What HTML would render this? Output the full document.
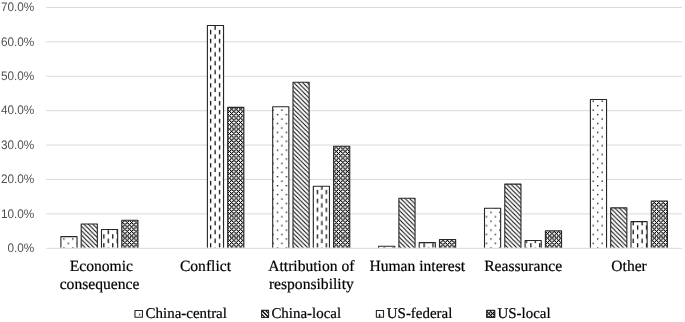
<!DOCTYPE html>
<html><head><meta charset="utf-8"><title>chart</title>
<style>
html,body{margin:0;padding:0;background:#fff;}
body{width:685px;height:322px;overflow:hidden;}
svg{display:block;will-change:transform;}
text{text-rendering:geometricPrecision;}
.ax{font-family:"Liberation Sans",sans-serif;font-size:12.4px;fill:#505050;}
.cat{font-family:"Liberation Serif",serif;font-size:15.6px;fill:#000;stroke:#000;stroke-width:0.2px;}
.leg{font-family:"Liberation Serif",serif;font-size:14.95px;fill:#000;stroke:#000;stroke-width:0.2px;}
</style></head><body>
<svg width="685" height="322" viewBox="0 0 685 322">
<defs>
<pattern id="pDot" patternUnits="userSpaceOnUse" width="8.8960" height="8.8850" patternTransform="translate(62.282 237.314)"><rect width="8.8960" height="8.8850" fill="#fff"/><rect x="1.0280" y="1.0259" width="1.2800" height="1.2800" fill="#000"/><rect x="5.4760" y="5.4684" width="1.2800" height="1.2800" fill="#000"/></pattern>
<pattern id="pDash" patternUnits="userSpaceOnUse" width="8.8960" height="8.8850" patternTransform="translate(208.982 29.899)"><rect width="8.8960" height="8.8850" fill="#fff"/><rect x="1.0680" y="0" width="1.2000" height="4.4425" fill="#000"/><rect x="5.5160" y="4.4425" width="1.2000" height="4.4425" fill="#000"/></pattern>
<pattern id="pDiag" patternUnits="userSpaceOnUse" width="4.4480" height="4.4480" patternTransform="translate(300.540 85.000)"><rect width="4.4480" height="4.4480" fill="#fff"/><path d="M-4.448 -4.448L8.896 8.896M-4.448 0L4.448 8.896M0 -4.448L8.896 4.448" stroke="#000" stroke-width="1.000" fill="none"/></pattern>
<pattern id="pChk" patternUnits="userSpaceOnUse" width="4.4480" height="4.4480" patternTransform="translate(291.755 129.130)"><rect width="4.4480" height="4.4480" fill="#fff"/><path d="M-4.448 -4.448L8.896 8.896M-4.448 0L4.448 8.896M0 -4.448L8.896 4.448M8.896 -4.448L-4.448 8.896M4.448 -4.448L-4.448 4.448M8.896 0L0 8.896" stroke="#000" stroke-width="0.900" fill="none"/></pattern>
<pattern id="lDot" patternUnits="userSpaceOnUse" width="8.8960" height="8.8850" patternTransform="translate(137.882 312.784)"><rect width="8.8960" height="8.8850" fill="#fff"/><rect x="1.0280" y="1.0259" width="1.2800" height="1.2800" fill="#000"/><rect x="5.4760" y="5.4684" width="1.2800" height="1.2800" fill="#000"/></pattern>
<pattern id="lDash" patternUnits="userSpaceOnUse" width="8.8960" height="8.8850" patternTransform="translate(377.892 313.959)"><rect width="8.8960" height="8.8850" fill="#fff"/><rect x="1.0680" y="0" width="1.2000" height="4.4425" fill="#000"/><rect x="5.5160" y="4.4425" width="1.2000" height="4.4425" fill="#000"/></pattern>
<pattern id="lDiag" patternUnits="userSpaceOnUse" width="4.4480" height="4.4480" patternTransform="translate(0.130 0.000)"><rect width="4.4480" height="4.4480" fill="#fff"/><path d="M-4.448 -4.448L8.896 8.896M-4.448 0L4.448 8.896M0 -4.448L8.896 4.448" stroke="#000" stroke-width="1.500" fill="none"/></pattern>
<pattern id="lChk" patternUnits="userSpaceOnUse" width="4.4480" height="4.4480" patternTransform="translate(486.250 311.970)"><rect width="4.4480" height="4.4480" fill="#fff"/><path d="M-4.448 -4.448L8.896 8.896M-4.448 0L4.448 8.896M0 -4.448L8.896 4.448M8.896 -4.448L-4.448 8.896M4.448 -4.448L-4.448 4.448M8.896 0L0 8.896" stroke="#000" stroke-width="0.900" fill="none"/></pattern>
</defs>
<rect width="685" height="322" fill="#fff"/>
<line x1="46.2" x2="682.05" y1="213.89" y2="213.89" stroke="#D9D9D9" stroke-width="1"/>
<line x1="46.2" x2="682.05" y1="179.48" y2="179.48" stroke="#D9D9D9" stroke-width="1"/>
<line x1="46.2" x2="682.05" y1="145.07" y2="145.07" stroke="#D9D9D9" stroke-width="1"/>
<line x1="46.2" x2="682.05" y1="110.66" y2="110.66" stroke="#D9D9D9" stroke-width="1"/>
<line x1="46.2" x2="682.05" y1="76.25" y2="76.25" stroke="#D9D9D9" stroke-width="1"/>
<line x1="46.2" x2="682.05" y1="41.84" y2="41.84" stroke="#D9D9D9" stroke-width="1"/>
<line x1="46.2" x2="682.05" y1="7.43" y2="7.43" stroke="#D9D9D9" stroke-width="1"/>
<text class="ax" x="34.25" y="252.00" text-anchor="end" textLength="26.75" lengthAdjust="spacingAndGlyphs">0.0%</text>
<text class="ax" x="34.25" y="217.59" text-anchor="end" textLength="33.35" lengthAdjust="spacingAndGlyphs">10.0%</text>
<text class="ax" x="34.25" y="183.18" text-anchor="end" textLength="33.35" lengthAdjust="spacingAndGlyphs">20.0%</text>
<text class="ax" x="34.25" y="148.77" text-anchor="end" textLength="33.35" lengthAdjust="spacingAndGlyphs">30.0%</text>
<text class="ax" x="34.25" y="114.36" text-anchor="end" textLength="33.35" lengthAdjust="spacingAndGlyphs">40.0%</text>
<text class="ax" x="34.25" y="79.95" text-anchor="end" textLength="33.35" lengthAdjust="spacingAndGlyphs">50.0%</text>
<text class="ax" x="34.25" y="45.54" text-anchor="end" textLength="33.35" lengthAdjust="spacingAndGlyphs">60.0%</text>
<text class="ax" x="34.25" y="11.13" text-anchor="end" textLength="33.35" lengthAdjust="spacingAndGlyphs">70.0%</text>
<path d="M60.90 247.80V236.64H77.05V247.80" fill="url(#pDot)" stroke="#262626" stroke-width="1.1" stroke-linejoin="round"/>
<path d="M81.20 247.80V224.02H97.35V247.80" fill="url(#pDiag)" stroke="#262626" stroke-width="1.1" stroke-linejoin="round"/>
<path d="M101.50 247.80V229.52H117.65V247.80" fill="url(#pDash)" stroke="#262626" stroke-width="1.1" stroke-linejoin="round"/>
<clipPath id="c0"><rect x="121.80" y="220.24" width="16.15" height="27.56"/></clipPath><path clip-path="url(#c0)" fill="#000" d="M120.99 218.57h1.26v1.26h-1.26zM123.21 218.57h1.26v1.26h-1.26zM125.44 218.57h1.26v1.26h-1.26zM127.66 218.57h1.26v1.26h-1.26zM129.89 218.57h1.26v1.26h-1.26zM132.11 218.57h1.26v1.26h-1.26zM134.33 218.57h1.26v1.26h-1.26zM136.56 218.57h1.26v1.26h-1.26zM138.78 218.57h1.26v1.26h-1.26zM119.88 219.69h1.26v1.26h-1.26zM124.33 219.69h1.26v1.26h-1.26zM128.77 219.69h1.26v1.26h-1.26zM133.22 219.69h1.26v1.26h-1.26zM137.67 219.69h1.26v1.26h-1.26zM120.99 220.80h1.26v1.26h-1.26zM123.21 220.80h1.26v1.26h-1.26zM125.44 220.80h1.26v1.26h-1.26zM127.66 220.80h1.26v1.26h-1.26zM129.89 220.80h1.26v1.26h-1.26zM132.11 220.80h1.26v1.26h-1.26zM134.33 220.80h1.26v1.26h-1.26zM136.56 220.80h1.26v1.26h-1.26zM138.78 220.80h1.26v1.26h-1.26zM122.10 221.91h1.26v1.26h-1.26zM126.55 221.91h1.26v1.26h-1.26zM131.00 221.91h1.26v1.26h-1.26zM135.45 221.91h1.26v1.26h-1.26zM120.99 223.02h1.26v1.26h-1.26zM123.21 223.02h1.26v1.26h-1.26zM125.44 223.02h1.26v1.26h-1.26zM127.66 223.02h1.26v1.26h-1.26zM129.89 223.02h1.26v1.26h-1.26zM132.11 223.02h1.26v1.26h-1.26zM134.33 223.02h1.26v1.26h-1.26zM136.56 223.02h1.26v1.26h-1.26zM138.78 223.02h1.26v1.26h-1.26zM119.88 224.13h1.26v1.26h-1.26zM124.33 224.13h1.26v1.26h-1.26zM128.77 224.13h1.26v1.26h-1.26zM133.22 224.13h1.26v1.26h-1.26zM137.67 224.13h1.26v1.26h-1.26zM120.99 225.25h1.26v1.26h-1.26zM123.21 225.25h1.26v1.26h-1.26zM125.44 225.25h1.26v1.26h-1.26zM127.66 225.25h1.26v1.26h-1.26zM129.89 225.25h1.26v1.26h-1.26zM132.11 225.25h1.26v1.26h-1.26zM134.33 225.25h1.26v1.26h-1.26zM136.56 225.25h1.26v1.26h-1.26zM138.78 225.25h1.26v1.26h-1.26zM122.10 226.36h1.26v1.26h-1.26zM126.55 226.36h1.26v1.26h-1.26zM131.00 226.36h1.26v1.26h-1.26zM135.45 226.36h1.26v1.26h-1.26zM120.99 227.47h1.26v1.26h-1.26zM123.21 227.47h1.26v1.26h-1.26zM125.44 227.47h1.26v1.26h-1.26zM127.66 227.47h1.26v1.26h-1.26zM129.89 227.47h1.26v1.26h-1.26zM132.11 227.47h1.26v1.26h-1.26zM134.33 227.47h1.26v1.26h-1.26zM136.56 227.47h1.26v1.26h-1.26zM138.78 227.47h1.26v1.26h-1.26zM119.88 228.58h1.26v1.26h-1.26zM124.33 228.58h1.26v1.26h-1.26zM128.77 228.58h1.26v1.26h-1.26zM133.22 228.58h1.26v1.26h-1.26zM137.67 228.58h1.26v1.26h-1.26zM120.99 229.69h1.26v1.26h-1.26zM123.21 229.69h1.26v1.26h-1.26zM125.44 229.69h1.26v1.26h-1.26zM127.66 229.69h1.26v1.26h-1.26zM129.89 229.69h1.26v1.26h-1.26zM132.11 229.69h1.26v1.26h-1.26zM134.33 229.69h1.26v1.26h-1.26zM136.56 229.69h1.26v1.26h-1.26zM138.78 229.69h1.26v1.26h-1.26zM122.10 230.81h1.26v1.26h-1.26zM126.55 230.81h1.26v1.26h-1.26zM131.00 230.81h1.26v1.26h-1.26zM135.45 230.81h1.26v1.26h-1.26zM120.99 231.92h1.26v1.26h-1.26zM123.21 231.92h1.26v1.26h-1.26zM125.44 231.92h1.26v1.26h-1.26zM127.66 231.92h1.26v1.26h-1.26zM129.89 231.92h1.26v1.26h-1.26zM132.11 231.92h1.26v1.26h-1.26zM134.33 231.92h1.26v1.26h-1.26zM136.56 231.92h1.26v1.26h-1.26zM138.78 231.92h1.26v1.26h-1.26zM119.88 233.03h1.26v1.26h-1.26zM124.33 233.03h1.26v1.26h-1.26zM128.77 233.03h1.26v1.26h-1.26zM133.22 233.03h1.26v1.26h-1.26zM137.67 233.03h1.26v1.26h-1.26zM120.99 234.14h1.26v1.26h-1.26zM123.21 234.14h1.26v1.26h-1.26zM125.44 234.14h1.26v1.26h-1.26zM127.66 234.14h1.26v1.26h-1.26zM129.89 234.14h1.26v1.26h-1.26zM132.11 234.14h1.26v1.26h-1.26zM134.33 234.14h1.26v1.26h-1.26zM136.56 234.14h1.26v1.26h-1.26zM138.78 234.14h1.26v1.26h-1.26zM122.10 235.25h1.26v1.26h-1.26zM126.55 235.25h1.26v1.26h-1.26zM131.00 235.25h1.26v1.26h-1.26zM135.45 235.25h1.26v1.26h-1.26zM120.99 236.37h1.26v1.26h-1.26zM123.21 236.37h1.26v1.26h-1.26zM125.44 236.37h1.26v1.26h-1.26zM127.66 236.37h1.26v1.26h-1.26zM129.89 236.37h1.26v1.26h-1.26zM132.11 236.37h1.26v1.26h-1.26zM134.33 236.37h1.26v1.26h-1.26zM136.56 236.37h1.26v1.26h-1.26zM138.78 236.37h1.26v1.26h-1.26zM119.88 237.48h1.26v1.26h-1.26zM124.33 237.48h1.26v1.26h-1.26zM128.77 237.48h1.26v1.26h-1.26zM133.22 237.48h1.26v1.26h-1.26zM137.67 237.48h1.26v1.26h-1.26zM120.99 238.59h1.26v1.26h-1.26zM123.21 238.59h1.26v1.26h-1.26zM125.44 238.59h1.26v1.26h-1.26zM127.66 238.59h1.26v1.26h-1.26zM129.89 238.59h1.26v1.26h-1.26zM132.11 238.59h1.26v1.26h-1.26zM134.33 238.59h1.26v1.26h-1.26zM136.56 238.59h1.26v1.26h-1.26zM138.78 238.59h1.26v1.26h-1.26zM122.10 239.70h1.26v1.26h-1.26zM126.55 239.70h1.26v1.26h-1.26zM131.00 239.70h1.26v1.26h-1.26zM135.45 239.70h1.26v1.26h-1.26zM120.99 240.81h1.26v1.26h-1.26zM123.21 240.81h1.26v1.26h-1.26zM125.44 240.81h1.26v1.26h-1.26zM127.66 240.81h1.26v1.26h-1.26zM129.89 240.81h1.26v1.26h-1.26zM132.11 240.81h1.26v1.26h-1.26zM134.33 240.81h1.26v1.26h-1.26zM136.56 240.81h1.26v1.26h-1.26zM138.78 240.81h1.26v1.26h-1.26zM119.88 241.93h1.26v1.26h-1.26zM124.33 241.93h1.26v1.26h-1.26zM128.77 241.93h1.26v1.26h-1.26zM133.22 241.93h1.26v1.26h-1.26zM137.67 241.93h1.26v1.26h-1.26zM120.99 243.04h1.26v1.26h-1.26zM123.21 243.04h1.26v1.26h-1.26zM125.44 243.04h1.26v1.26h-1.26zM127.66 243.04h1.26v1.26h-1.26zM129.89 243.04h1.26v1.26h-1.26zM132.11 243.04h1.26v1.26h-1.26zM134.33 243.04h1.26v1.26h-1.26zM136.56 243.04h1.26v1.26h-1.26zM138.78 243.04h1.26v1.26h-1.26zM122.10 244.15h1.26v1.26h-1.26zM126.55 244.15h1.26v1.26h-1.26zM131.00 244.15h1.26v1.26h-1.26zM135.45 244.15h1.26v1.26h-1.26zM120.99 245.26h1.26v1.26h-1.26zM123.21 245.26h1.26v1.26h-1.26zM125.44 245.26h1.26v1.26h-1.26zM127.66 245.26h1.26v1.26h-1.26zM129.89 245.26h1.26v1.26h-1.26zM132.11 245.26h1.26v1.26h-1.26zM134.33 245.26h1.26v1.26h-1.26zM136.56 245.26h1.26v1.26h-1.26zM138.78 245.26h1.26v1.26h-1.26zM119.88 246.37h1.26v1.26h-1.26zM124.33 246.37h1.26v1.26h-1.26zM128.77 246.37h1.26v1.26h-1.26zM133.22 246.37h1.26v1.26h-1.26zM137.67 246.37h1.26v1.26h-1.26zM120.99 247.49h1.26v1.26h-1.26zM123.21 247.49h1.26v1.26h-1.26zM125.44 247.49h1.26v1.26h-1.26zM127.66 247.49h1.26v1.26h-1.26zM129.89 247.49h1.26v1.26h-1.26zM132.11 247.49h1.26v1.26h-1.26zM134.33 247.49h1.26v1.26h-1.26zM136.56 247.49h1.26v1.26h-1.26zM138.78 247.49h1.26v1.26h-1.26zM122.10 248.60h1.26v1.26h-1.26zM126.55 248.60h1.26v1.26h-1.26zM131.00 248.60h1.26v1.26h-1.26zM135.45 248.60h1.26v1.26h-1.26z"/>
<path d="M121.80 247.80V220.24H137.95V247.80" fill="none" stroke="#262626" stroke-width="1.1" stroke-linejoin="round"/>
<path d="M207.40 247.80V25.53H223.55V247.80" fill="url(#pDash)" stroke="#262626" stroke-width="1.1" stroke-linejoin="round"/>
<clipPath id="c1"><rect x="227.70" y="107.40" width="16.15" height="140.40"/></clipPath><path clip-path="url(#c1)" fill="#000" d="M225.52 105.15h1.26v1.26h-1.26zM227.74 105.15h1.26v1.26h-1.26zM229.97 105.15h1.26v1.26h-1.26zM232.19 105.15h1.26v1.26h-1.26zM234.41 105.15h1.26v1.26h-1.26zM236.64 105.15h1.26v1.26h-1.26zM238.86 105.15h1.26v1.26h-1.26zM241.09 105.15h1.26v1.26h-1.26zM243.31 105.15h1.26v1.26h-1.26zM228.85 106.26h1.26v1.26h-1.26zM233.30 106.26h1.26v1.26h-1.26zM237.75 106.26h1.26v1.26h-1.26zM242.20 106.26h1.26v1.26h-1.26zM225.52 107.37h1.26v1.26h-1.26zM227.74 107.37h1.26v1.26h-1.26zM229.97 107.37h1.26v1.26h-1.26zM232.19 107.37h1.26v1.26h-1.26zM234.41 107.37h1.26v1.26h-1.26zM236.64 107.37h1.26v1.26h-1.26zM238.86 107.37h1.26v1.26h-1.26zM241.09 107.37h1.26v1.26h-1.26zM243.31 107.37h1.26v1.26h-1.26zM226.63 108.49h1.26v1.26h-1.26zM231.08 108.49h1.26v1.26h-1.26zM235.53 108.49h1.26v1.26h-1.26zM239.97 108.49h1.26v1.26h-1.26zM244.42 108.49h1.26v1.26h-1.26zM225.52 109.60h1.26v1.26h-1.26zM227.74 109.60h1.26v1.26h-1.26zM229.97 109.60h1.26v1.26h-1.26zM232.19 109.60h1.26v1.26h-1.26zM234.41 109.60h1.26v1.26h-1.26zM236.64 109.60h1.26v1.26h-1.26zM238.86 109.60h1.26v1.26h-1.26zM241.09 109.60h1.26v1.26h-1.26zM243.31 109.60h1.26v1.26h-1.26zM228.85 110.71h1.26v1.26h-1.26zM233.30 110.71h1.26v1.26h-1.26zM237.75 110.71h1.26v1.26h-1.26zM242.20 110.71h1.26v1.26h-1.26zM225.52 111.82h1.26v1.26h-1.26zM227.74 111.82h1.26v1.26h-1.26zM229.97 111.82h1.26v1.26h-1.26zM232.19 111.82h1.26v1.26h-1.26zM234.41 111.82h1.26v1.26h-1.26zM236.64 111.82h1.26v1.26h-1.26zM238.86 111.82h1.26v1.26h-1.26zM241.09 111.82h1.26v1.26h-1.26zM243.31 111.82h1.26v1.26h-1.26zM226.63 112.93h1.26v1.26h-1.26zM231.08 112.93h1.26v1.26h-1.26zM235.53 112.93h1.26v1.26h-1.26zM239.97 112.93h1.26v1.26h-1.26zM244.42 112.93h1.26v1.26h-1.26zM225.52 114.05h1.26v1.26h-1.26zM227.74 114.05h1.26v1.26h-1.26zM229.97 114.05h1.26v1.26h-1.26zM232.19 114.05h1.26v1.26h-1.26zM234.41 114.05h1.26v1.26h-1.26zM236.64 114.05h1.26v1.26h-1.26zM238.86 114.05h1.26v1.26h-1.26zM241.09 114.05h1.26v1.26h-1.26zM243.31 114.05h1.26v1.26h-1.26zM228.85 115.16h1.26v1.26h-1.26zM233.30 115.16h1.26v1.26h-1.26zM237.75 115.16h1.26v1.26h-1.26zM242.20 115.16h1.26v1.26h-1.26zM225.52 116.27h1.26v1.26h-1.26zM227.74 116.27h1.26v1.26h-1.26zM229.97 116.27h1.26v1.26h-1.26zM232.19 116.27h1.26v1.26h-1.26zM234.41 116.27h1.26v1.26h-1.26zM236.64 116.27h1.26v1.26h-1.26zM238.86 116.27h1.26v1.26h-1.26zM241.09 116.27h1.26v1.26h-1.26zM243.31 116.27h1.26v1.26h-1.26zM226.63 117.38h1.26v1.26h-1.26zM231.08 117.38h1.26v1.26h-1.26zM235.53 117.38h1.26v1.26h-1.26zM239.97 117.38h1.26v1.26h-1.26zM244.42 117.38h1.26v1.26h-1.26zM225.52 118.49h1.26v1.26h-1.26zM227.74 118.49h1.26v1.26h-1.26zM229.97 118.49h1.26v1.26h-1.26zM232.19 118.49h1.26v1.26h-1.26zM234.41 118.49h1.26v1.26h-1.26zM236.64 118.49h1.26v1.26h-1.26zM238.86 118.49h1.26v1.26h-1.26zM241.09 118.49h1.26v1.26h-1.26zM243.31 118.49h1.26v1.26h-1.26zM228.85 119.61h1.26v1.26h-1.26zM233.30 119.61h1.26v1.26h-1.26zM237.75 119.61h1.26v1.26h-1.26zM242.20 119.61h1.26v1.26h-1.26zM225.52 120.72h1.26v1.26h-1.26zM227.74 120.72h1.26v1.26h-1.26zM229.97 120.72h1.26v1.26h-1.26zM232.19 120.72h1.26v1.26h-1.26zM234.41 120.72h1.26v1.26h-1.26zM236.64 120.72h1.26v1.26h-1.26zM238.86 120.72h1.26v1.26h-1.26zM241.09 120.72h1.26v1.26h-1.26zM243.31 120.72h1.26v1.26h-1.26zM226.63 121.83h1.26v1.26h-1.26zM231.08 121.83h1.26v1.26h-1.26zM235.53 121.83h1.26v1.26h-1.26zM239.97 121.83h1.26v1.26h-1.26zM244.42 121.83h1.26v1.26h-1.26zM225.52 122.94h1.26v1.26h-1.26zM227.74 122.94h1.26v1.26h-1.26zM229.97 122.94h1.26v1.26h-1.26zM232.19 122.94h1.26v1.26h-1.26zM234.41 122.94h1.26v1.26h-1.26zM236.64 122.94h1.26v1.26h-1.26zM238.86 122.94h1.26v1.26h-1.26zM241.09 122.94h1.26v1.26h-1.26zM243.31 122.94h1.26v1.26h-1.26zM228.85 124.05h1.26v1.26h-1.26zM233.30 124.05h1.26v1.26h-1.26zM237.75 124.05h1.26v1.26h-1.26zM242.20 124.05h1.26v1.26h-1.26zM225.52 125.17h1.26v1.26h-1.26zM227.74 125.17h1.26v1.26h-1.26zM229.97 125.17h1.26v1.26h-1.26zM232.19 125.17h1.26v1.26h-1.26zM234.41 125.17h1.26v1.26h-1.26zM236.64 125.17h1.26v1.26h-1.26zM238.86 125.17h1.26v1.26h-1.26zM241.09 125.17h1.26v1.26h-1.26zM243.31 125.17h1.26v1.26h-1.26zM226.63 126.28h1.26v1.26h-1.26zM231.08 126.28h1.26v1.26h-1.26zM235.53 126.28h1.26v1.26h-1.26zM239.97 126.28h1.26v1.26h-1.26zM244.42 126.28h1.26v1.26h-1.26zM225.52 127.39h1.26v1.26h-1.26zM227.74 127.39h1.26v1.26h-1.26zM229.97 127.39h1.26v1.26h-1.26zM232.19 127.39h1.26v1.26h-1.26zM234.41 127.39h1.26v1.26h-1.26zM236.64 127.39h1.26v1.26h-1.26zM238.86 127.39h1.26v1.26h-1.26zM241.09 127.39h1.26v1.26h-1.26zM243.31 127.39h1.26v1.26h-1.26zM228.85 128.50h1.26v1.26h-1.26zM233.30 128.50h1.26v1.26h-1.26zM237.75 128.50h1.26v1.26h-1.26zM242.20 128.50h1.26v1.26h-1.26zM225.52 129.61h1.26v1.26h-1.26zM227.74 129.61h1.26v1.26h-1.26zM229.97 129.61h1.26v1.26h-1.26zM232.19 129.61h1.26v1.26h-1.26zM234.41 129.61h1.26v1.26h-1.26zM236.64 129.61h1.26v1.26h-1.26zM238.86 129.61h1.26v1.26h-1.26zM241.09 129.61h1.26v1.26h-1.26zM243.31 129.61h1.26v1.26h-1.26zM226.63 130.73h1.26v1.26h-1.26zM231.08 130.73h1.26v1.26h-1.26zM235.53 130.73h1.26v1.26h-1.26zM239.97 130.73h1.26v1.26h-1.26zM244.42 130.73h1.26v1.26h-1.26zM225.52 131.84h1.26v1.26h-1.26zM227.74 131.84h1.26v1.26h-1.26zM229.97 131.84h1.26v1.26h-1.26zM232.19 131.84h1.26v1.26h-1.26zM234.41 131.84h1.26v1.26h-1.26zM236.64 131.84h1.26v1.26h-1.26zM238.86 131.84h1.26v1.26h-1.26zM241.09 131.84h1.26v1.26h-1.26zM243.31 131.84h1.26v1.26h-1.26zM228.85 132.95h1.26v1.26h-1.26zM233.30 132.95h1.26v1.26h-1.26zM237.75 132.95h1.26v1.26h-1.26zM242.20 132.95h1.26v1.26h-1.26zM225.52 134.06h1.26v1.26h-1.26zM227.74 134.06h1.26v1.26h-1.26zM229.97 134.06h1.26v1.26h-1.26zM232.19 134.06h1.26v1.26h-1.26zM234.41 134.06h1.26v1.26h-1.26zM236.64 134.06h1.26v1.26h-1.26zM238.86 134.06h1.26v1.26h-1.26zM241.09 134.06h1.26v1.26h-1.26zM243.31 134.06h1.26v1.26h-1.26zM226.63 135.17h1.26v1.26h-1.26zM231.08 135.17h1.26v1.26h-1.26zM235.53 135.17h1.26v1.26h-1.26zM239.97 135.17h1.26v1.26h-1.26zM244.42 135.17h1.26v1.26h-1.26zM225.52 136.29h1.26v1.26h-1.26zM227.74 136.29h1.26v1.26h-1.26zM229.97 136.29h1.26v1.26h-1.26zM232.19 136.29h1.26v1.26h-1.26zM234.41 136.29h1.26v1.26h-1.26zM236.64 136.29h1.26v1.26h-1.26zM238.86 136.29h1.26v1.26h-1.26zM241.09 136.29h1.26v1.26h-1.26zM243.31 136.29h1.26v1.26h-1.26zM228.85 137.40h1.26v1.26h-1.26zM233.30 137.40h1.26v1.26h-1.26zM237.75 137.40h1.26v1.26h-1.26zM242.20 137.40h1.26v1.26h-1.26zM225.52 138.51h1.26v1.26h-1.26zM227.74 138.51h1.26v1.26h-1.26zM229.97 138.51h1.26v1.26h-1.26zM232.19 138.51h1.26v1.26h-1.26zM234.41 138.51h1.26v1.26h-1.26zM236.64 138.51h1.26v1.26h-1.26zM238.86 138.51h1.26v1.26h-1.26zM241.09 138.51h1.26v1.26h-1.26zM243.31 138.51h1.26v1.26h-1.26zM226.63 139.62h1.26v1.26h-1.26zM231.08 139.62h1.26v1.26h-1.26zM235.53 139.62h1.26v1.26h-1.26zM239.97 139.62h1.26v1.26h-1.26zM244.42 139.62h1.26v1.26h-1.26zM225.52 140.73h1.26v1.26h-1.26zM227.74 140.73h1.26v1.26h-1.26zM229.97 140.73h1.26v1.26h-1.26zM232.19 140.73h1.26v1.26h-1.26zM234.41 140.73h1.26v1.26h-1.26zM236.64 140.73h1.26v1.26h-1.26zM238.86 140.73h1.26v1.26h-1.26zM241.09 140.73h1.26v1.26h-1.26zM243.31 140.73h1.26v1.26h-1.26zM228.85 141.85h1.26v1.26h-1.26zM233.30 141.85h1.26v1.26h-1.26zM237.75 141.85h1.26v1.26h-1.26zM242.20 141.85h1.26v1.26h-1.26zM225.52 142.96h1.26v1.26h-1.26zM227.74 142.96h1.26v1.26h-1.26zM229.97 142.96h1.26v1.26h-1.26zM232.19 142.96h1.26v1.26h-1.26zM234.41 142.96h1.26v1.26h-1.26zM236.64 142.96h1.26v1.26h-1.26zM238.86 142.96h1.26v1.26h-1.26zM241.09 142.96h1.26v1.26h-1.26zM243.31 142.96h1.26v1.26h-1.26zM226.63 144.07h1.26v1.26h-1.26zM231.08 144.07h1.26v1.26h-1.26zM235.53 144.07h1.26v1.26h-1.26zM239.97 144.07h1.26v1.26h-1.26zM244.42 144.07h1.26v1.26h-1.26zM225.52 145.18h1.26v1.26h-1.26zM227.74 145.18h1.26v1.26h-1.26zM229.97 145.18h1.26v1.26h-1.26zM232.19 145.18h1.26v1.26h-1.26zM234.41 145.18h1.26v1.26h-1.26zM236.64 145.18h1.26v1.26h-1.26zM238.86 145.18h1.26v1.26h-1.26zM241.09 145.18h1.26v1.26h-1.26zM243.31 145.18h1.26v1.26h-1.26zM228.85 146.29h1.26v1.26h-1.26zM233.30 146.29h1.26v1.26h-1.26zM237.75 146.29h1.26v1.26h-1.26zM242.20 146.29h1.26v1.26h-1.26zM225.52 147.41h1.26v1.26h-1.26zM227.74 147.41h1.26v1.26h-1.26zM229.97 147.41h1.26v1.26h-1.26zM232.19 147.41h1.26v1.26h-1.26zM234.41 147.41h1.26v1.26h-1.26zM236.64 147.41h1.26v1.26h-1.26zM238.86 147.41h1.26v1.26h-1.26zM241.09 147.41h1.26v1.26h-1.26zM243.31 147.41h1.26v1.26h-1.26zM226.63 148.52h1.26v1.26h-1.26zM231.08 148.52h1.26v1.26h-1.26zM235.53 148.52h1.26v1.26h-1.26zM239.97 148.52h1.26v1.26h-1.26zM244.42 148.52h1.26v1.26h-1.26zM225.52 149.63h1.26v1.26h-1.26zM227.74 149.63h1.26v1.26h-1.26zM229.97 149.63h1.26v1.26h-1.26zM232.19 149.63h1.26v1.26h-1.26zM234.41 149.63h1.26v1.26h-1.26zM236.64 149.63h1.26v1.26h-1.26zM238.86 149.63h1.26v1.26h-1.26zM241.09 149.63h1.26v1.26h-1.26zM243.31 149.63h1.26v1.26h-1.26zM228.85 150.74h1.26v1.26h-1.26zM233.30 150.74h1.26v1.26h-1.26zM237.75 150.74h1.26v1.26h-1.26zM242.20 150.74h1.26v1.26h-1.26zM225.52 151.85h1.26v1.26h-1.26zM227.74 151.85h1.26v1.26h-1.26zM229.97 151.85h1.26v1.26h-1.26zM232.19 151.85h1.26v1.26h-1.26zM234.41 151.85h1.26v1.26h-1.26zM236.64 151.85h1.26v1.26h-1.26zM238.86 151.85h1.26v1.26h-1.26zM241.09 151.85h1.26v1.26h-1.26zM243.31 151.85h1.26v1.26h-1.26zM226.63 152.97h1.26v1.26h-1.26zM231.08 152.97h1.26v1.26h-1.26zM235.53 152.97h1.26v1.26h-1.26zM239.97 152.97h1.26v1.26h-1.26zM244.42 152.97h1.26v1.26h-1.26zM225.52 154.08h1.26v1.26h-1.26zM227.74 154.08h1.26v1.26h-1.26zM229.97 154.08h1.26v1.26h-1.26zM232.19 154.08h1.26v1.26h-1.26zM234.41 154.08h1.26v1.26h-1.26zM236.64 154.08h1.26v1.26h-1.26zM238.86 154.08h1.26v1.26h-1.26zM241.09 154.08h1.26v1.26h-1.26zM243.31 154.08h1.26v1.26h-1.26zM228.85 155.19h1.26v1.26h-1.26zM233.30 155.19h1.26v1.26h-1.26zM237.75 155.19h1.26v1.26h-1.26zM242.20 155.19h1.26v1.26h-1.26zM225.52 156.30h1.26v1.26h-1.26zM227.74 156.30h1.26v1.26h-1.26zM229.97 156.30h1.26v1.26h-1.26zM232.19 156.30h1.26v1.26h-1.26zM234.41 156.30h1.26v1.26h-1.26zM236.64 156.30h1.26v1.26h-1.26zM238.86 156.30h1.26v1.26h-1.26zM241.09 156.30h1.26v1.26h-1.26zM243.31 156.30h1.26v1.26h-1.26zM226.63 157.41h1.26v1.26h-1.26zM231.08 157.41h1.26v1.26h-1.26zM235.53 157.41h1.26v1.26h-1.26zM239.97 157.41h1.26v1.26h-1.26zM244.42 157.41h1.26v1.26h-1.26zM225.52 158.53h1.26v1.26h-1.26zM227.74 158.53h1.26v1.26h-1.26zM229.97 158.53h1.26v1.26h-1.26zM232.19 158.53h1.26v1.26h-1.26zM234.41 158.53h1.26v1.26h-1.26zM236.64 158.53h1.26v1.26h-1.26zM238.86 158.53h1.26v1.26h-1.26zM241.09 158.53h1.26v1.26h-1.26zM243.31 158.53h1.26v1.26h-1.26zM228.85 159.64h1.26v1.26h-1.26zM233.30 159.64h1.26v1.26h-1.26zM237.75 159.64h1.26v1.26h-1.26zM242.20 159.64h1.26v1.26h-1.26zM225.52 160.75h1.26v1.26h-1.26zM227.74 160.75h1.26v1.26h-1.26zM229.97 160.75h1.26v1.26h-1.26zM232.19 160.75h1.26v1.26h-1.26zM234.41 160.75h1.26v1.26h-1.26zM236.64 160.75h1.26v1.26h-1.26zM238.86 160.75h1.26v1.26h-1.26zM241.09 160.75h1.26v1.26h-1.26zM243.31 160.75h1.26v1.26h-1.26zM226.63 161.86h1.26v1.26h-1.26zM231.08 161.86h1.26v1.26h-1.26zM235.53 161.86h1.26v1.26h-1.26zM239.97 161.86h1.26v1.26h-1.26zM244.42 161.86h1.26v1.26h-1.26zM225.52 162.97h1.26v1.26h-1.26zM227.74 162.97h1.26v1.26h-1.26zM229.97 162.97h1.26v1.26h-1.26zM232.19 162.97h1.26v1.26h-1.26zM234.41 162.97h1.26v1.26h-1.26zM236.64 162.97h1.26v1.26h-1.26zM238.86 162.97h1.26v1.26h-1.26zM241.09 162.97h1.26v1.26h-1.26zM243.31 162.97h1.26v1.26h-1.26zM228.85 164.09h1.26v1.26h-1.26zM233.30 164.09h1.26v1.26h-1.26zM237.75 164.09h1.26v1.26h-1.26zM242.20 164.09h1.26v1.26h-1.26zM225.52 165.20h1.26v1.26h-1.26zM227.74 165.20h1.26v1.26h-1.26zM229.97 165.20h1.26v1.26h-1.26zM232.19 165.20h1.26v1.26h-1.26zM234.41 165.20h1.26v1.26h-1.26zM236.64 165.20h1.26v1.26h-1.26zM238.86 165.20h1.26v1.26h-1.26zM241.09 165.20h1.26v1.26h-1.26zM243.31 165.20h1.26v1.26h-1.26zM226.63 166.31h1.26v1.26h-1.26zM231.08 166.31h1.26v1.26h-1.26zM235.53 166.31h1.26v1.26h-1.26zM239.97 166.31h1.26v1.26h-1.26zM244.42 166.31h1.26v1.26h-1.26zM225.52 167.42h1.26v1.26h-1.26zM227.74 167.42h1.26v1.26h-1.26zM229.97 167.42h1.26v1.26h-1.26zM232.19 167.42h1.26v1.26h-1.26zM234.41 167.42h1.26v1.26h-1.26zM236.64 167.42h1.26v1.26h-1.26zM238.86 167.42h1.26v1.26h-1.26zM241.09 167.42h1.26v1.26h-1.26zM243.31 167.42h1.26v1.26h-1.26zM228.85 168.53h1.26v1.26h-1.26zM233.30 168.53h1.26v1.26h-1.26zM237.75 168.53h1.26v1.26h-1.26zM242.20 168.53h1.26v1.26h-1.26zM225.52 169.65h1.26v1.26h-1.26zM227.74 169.65h1.26v1.26h-1.26zM229.97 169.65h1.26v1.26h-1.26zM232.19 169.65h1.26v1.26h-1.26zM234.41 169.65h1.26v1.26h-1.26zM236.64 169.65h1.26v1.26h-1.26zM238.86 169.65h1.26v1.26h-1.26zM241.09 169.65h1.26v1.26h-1.26zM243.31 169.65h1.26v1.26h-1.26zM226.63 170.76h1.26v1.26h-1.26zM231.08 170.76h1.26v1.26h-1.26zM235.53 170.76h1.26v1.26h-1.26zM239.97 170.76h1.26v1.26h-1.26zM244.42 170.76h1.26v1.26h-1.26zM225.52 171.87h1.26v1.26h-1.26zM227.74 171.87h1.26v1.26h-1.26zM229.97 171.87h1.26v1.26h-1.26zM232.19 171.87h1.26v1.26h-1.26zM234.41 171.87h1.26v1.26h-1.26zM236.64 171.87h1.26v1.26h-1.26zM238.86 171.87h1.26v1.26h-1.26zM241.09 171.87h1.26v1.26h-1.26zM243.31 171.87h1.26v1.26h-1.26zM228.85 172.98h1.26v1.26h-1.26zM233.30 172.98h1.26v1.26h-1.26zM237.75 172.98h1.26v1.26h-1.26zM242.20 172.98h1.26v1.26h-1.26zM225.52 174.09h1.26v1.26h-1.26zM227.74 174.09h1.26v1.26h-1.26zM229.97 174.09h1.26v1.26h-1.26zM232.19 174.09h1.26v1.26h-1.26zM234.41 174.09h1.26v1.26h-1.26zM236.64 174.09h1.26v1.26h-1.26zM238.86 174.09h1.26v1.26h-1.26zM241.09 174.09h1.26v1.26h-1.26zM243.31 174.09h1.26v1.26h-1.26zM226.63 175.21h1.26v1.26h-1.26zM231.08 175.21h1.26v1.26h-1.26zM235.53 175.21h1.26v1.26h-1.26zM239.97 175.21h1.26v1.26h-1.26zM244.42 175.21h1.26v1.26h-1.26zM225.52 176.32h1.26v1.26h-1.26zM227.74 176.32h1.26v1.26h-1.26zM229.97 176.32h1.26v1.26h-1.26zM232.19 176.32h1.26v1.26h-1.26zM234.41 176.32h1.26v1.26h-1.26zM236.64 176.32h1.26v1.26h-1.26zM238.86 176.32h1.26v1.26h-1.26zM241.09 176.32h1.26v1.26h-1.26zM243.31 176.32h1.26v1.26h-1.26zM228.85 177.43h1.26v1.26h-1.26zM233.30 177.43h1.26v1.26h-1.26zM237.75 177.43h1.26v1.26h-1.26zM242.20 177.43h1.26v1.26h-1.26zM225.52 178.54h1.26v1.26h-1.26zM227.74 178.54h1.26v1.26h-1.26zM229.97 178.54h1.26v1.26h-1.26zM232.19 178.54h1.26v1.26h-1.26zM234.41 178.54h1.26v1.26h-1.26zM236.64 178.54h1.26v1.26h-1.26zM238.86 178.54h1.26v1.26h-1.26zM241.09 178.54h1.26v1.26h-1.26zM243.31 178.54h1.26v1.26h-1.26zM226.63 179.65h1.26v1.26h-1.26zM231.08 179.65h1.26v1.26h-1.26zM235.53 179.65h1.26v1.26h-1.26zM239.97 179.65h1.26v1.26h-1.26zM244.42 179.65h1.26v1.26h-1.26zM225.52 180.77h1.26v1.26h-1.26zM227.74 180.77h1.26v1.26h-1.26zM229.97 180.77h1.26v1.26h-1.26zM232.19 180.77h1.26v1.26h-1.26zM234.41 180.77h1.26v1.26h-1.26zM236.64 180.77h1.26v1.26h-1.26zM238.86 180.77h1.26v1.26h-1.26zM241.09 180.77h1.26v1.26h-1.26zM243.31 180.77h1.26v1.26h-1.26zM228.85 181.88h1.26v1.26h-1.26zM233.30 181.88h1.26v1.26h-1.26zM237.75 181.88h1.26v1.26h-1.26zM242.20 181.88h1.26v1.26h-1.26zM225.52 182.99h1.26v1.26h-1.26zM227.74 182.99h1.26v1.26h-1.26zM229.97 182.99h1.26v1.26h-1.26zM232.19 182.99h1.26v1.26h-1.26zM234.41 182.99h1.26v1.26h-1.26zM236.64 182.99h1.26v1.26h-1.26zM238.86 182.99h1.26v1.26h-1.26zM241.09 182.99h1.26v1.26h-1.26zM243.31 182.99h1.26v1.26h-1.26zM226.63 184.10h1.26v1.26h-1.26zM231.08 184.10h1.26v1.26h-1.26zM235.53 184.10h1.26v1.26h-1.26zM239.97 184.10h1.26v1.26h-1.26zM244.42 184.10h1.26v1.26h-1.26zM225.52 185.21h1.26v1.26h-1.26zM227.74 185.21h1.26v1.26h-1.26zM229.97 185.21h1.26v1.26h-1.26zM232.19 185.21h1.26v1.26h-1.26zM234.41 185.21h1.26v1.26h-1.26zM236.64 185.21h1.26v1.26h-1.26zM238.86 185.21h1.26v1.26h-1.26zM241.09 185.21h1.26v1.26h-1.26zM243.31 185.21h1.26v1.26h-1.26zM228.85 186.33h1.26v1.26h-1.26zM233.30 186.33h1.26v1.26h-1.26zM237.75 186.33h1.26v1.26h-1.26zM242.20 186.33h1.26v1.26h-1.26zM225.52 187.44h1.26v1.26h-1.26zM227.74 187.44h1.26v1.26h-1.26zM229.97 187.44h1.26v1.26h-1.26zM232.19 187.44h1.26v1.26h-1.26zM234.41 187.44h1.26v1.26h-1.26zM236.64 187.44h1.26v1.26h-1.26zM238.86 187.44h1.26v1.26h-1.26zM241.09 187.44h1.26v1.26h-1.26zM243.31 187.44h1.26v1.26h-1.26zM226.63 188.55h1.26v1.26h-1.26zM231.08 188.55h1.26v1.26h-1.26zM235.53 188.55h1.26v1.26h-1.26zM239.97 188.55h1.26v1.26h-1.26zM244.42 188.55h1.26v1.26h-1.26zM225.52 189.66h1.26v1.26h-1.26zM227.74 189.66h1.26v1.26h-1.26zM229.97 189.66h1.26v1.26h-1.26zM232.19 189.66h1.26v1.26h-1.26zM234.41 189.66h1.26v1.26h-1.26zM236.64 189.66h1.26v1.26h-1.26zM238.86 189.66h1.26v1.26h-1.26zM241.09 189.66h1.26v1.26h-1.26zM243.31 189.66h1.26v1.26h-1.26zM228.85 190.77h1.26v1.26h-1.26zM233.30 190.77h1.26v1.26h-1.26zM237.75 190.77h1.26v1.26h-1.26zM242.20 190.77h1.26v1.26h-1.26zM225.52 191.89h1.26v1.26h-1.26zM227.74 191.89h1.26v1.26h-1.26zM229.97 191.89h1.26v1.26h-1.26zM232.19 191.89h1.26v1.26h-1.26zM234.41 191.89h1.26v1.26h-1.26zM236.64 191.89h1.26v1.26h-1.26zM238.86 191.89h1.26v1.26h-1.26zM241.09 191.89h1.26v1.26h-1.26zM243.31 191.89h1.26v1.26h-1.26zM226.63 193.00h1.26v1.26h-1.26zM231.08 193.00h1.26v1.26h-1.26zM235.53 193.00h1.26v1.26h-1.26zM239.97 193.00h1.26v1.26h-1.26zM244.42 193.00h1.26v1.26h-1.26zM225.52 194.11h1.26v1.26h-1.26zM227.74 194.11h1.26v1.26h-1.26zM229.97 194.11h1.26v1.26h-1.26zM232.19 194.11h1.26v1.26h-1.26zM234.41 194.11h1.26v1.26h-1.26zM236.64 194.11h1.26v1.26h-1.26zM238.86 194.11h1.26v1.26h-1.26zM241.09 194.11h1.26v1.26h-1.26zM243.31 194.11h1.26v1.26h-1.26zM228.85 195.22h1.26v1.26h-1.26zM233.30 195.22h1.26v1.26h-1.26zM237.75 195.22h1.26v1.26h-1.26zM242.20 195.22h1.26v1.26h-1.26zM225.52 196.33h1.26v1.26h-1.26zM227.74 196.33h1.26v1.26h-1.26zM229.97 196.33h1.26v1.26h-1.26zM232.19 196.33h1.26v1.26h-1.26zM234.41 196.33h1.26v1.26h-1.26zM236.64 196.33h1.26v1.26h-1.26zM238.86 196.33h1.26v1.26h-1.26zM241.09 196.33h1.26v1.26h-1.26zM243.31 196.33h1.26v1.26h-1.26zM226.63 197.45h1.26v1.26h-1.26zM231.08 197.45h1.26v1.26h-1.26zM235.53 197.45h1.26v1.26h-1.26zM239.97 197.45h1.26v1.26h-1.26zM244.42 197.45h1.26v1.26h-1.26zM225.52 198.56h1.26v1.26h-1.26zM227.74 198.56h1.26v1.26h-1.26zM229.97 198.56h1.26v1.26h-1.26zM232.19 198.56h1.26v1.26h-1.26zM234.41 198.56h1.26v1.26h-1.26zM236.64 198.56h1.26v1.26h-1.26zM238.86 198.56h1.26v1.26h-1.26zM241.09 198.56h1.26v1.26h-1.26zM243.31 198.56h1.26v1.26h-1.26zM228.85 199.67h1.26v1.26h-1.26zM233.30 199.67h1.26v1.26h-1.26zM237.75 199.67h1.26v1.26h-1.26zM242.20 199.67h1.26v1.26h-1.26zM225.52 200.78h1.26v1.26h-1.26zM227.74 200.78h1.26v1.26h-1.26zM229.97 200.78h1.26v1.26h-1.26zM232.19 200.78h1.26v1.26h-1.26zM234.41 200.78h1.26v1.26h-1.26zM236.64 200.78h1.26v1.26h-1.26zM238.86 200.78h1.26v1.26h-1.26zM241.09 200.78h1.26v1.26h-1.26zM243.31 200.78h1.26v1.26h-1.26zM226.63 201.89h1.26v1.26h-1.26zM231.08 201.89h1.26v1.26h-1.26zM235.53 201.89h1.26v1.26h-1.26zM239.97 201.89h1.26v1.26h-1.26zM244.42 201.89h1.26v1.26h-1.26zM225.52 203.01h1.26v1.26h-1.26zM227.74 203.01h1.26v1.26h-1.26zM229.97 203.01h1.26v1.26h-1.26zM232.19 203.01h1.26v1.26h-1.26zM234.41 203.01h1.26v1.26h-1.26zM236.64 203.01h1.26v1.26h-1.26zM238.86 203.01h1.26v1.26h-1.26zM241.09 203.01h1.26v1.26h-1.26zM243.31 203.01h1.26v1.26h-1.26zM228.85 204.12h1.26v1.26h-1.26zM233.30 204.12h1.26v1.26h-1.26zM237.75 204.12h1.26v1.26h-1.26zM242.20 204.12h1.26v1.26h-1.26zM225.52 205.23h1.26v1.26h-1.26zM227.74 205.23h1.26v1.26h-1.26zM229.97 205.23h1.26v1.26h-1.26zM232.19 205.23h1.26v1.26h-1.26zM234.41 205.23h1.26v1.26h-1.26zM236.64 205.23h1.26v1.26h-1.26zM238.86 205.23h1.26v1.26h-1.26zM241.09 205.23h1.26v1.26h-1.26zM243.31 205.23h1.26v1.26h-1.26zM226.63 206.34h1.26v1.26h-1.26zM231.08 206.34h1.26v1.26h-1.26zM235.53 206.34h1.26v1.26h-1.26zM239.97 206.34h1.26v1.26h-1.26zM244.42 206.34h1.26v1.26h-1.26zM225.52 207.45h1.26v1.26h-1.26zM227.74 207.45h1.26v1.26h-1.26zM229.97 207.45h1.26v1.26h-1.26zM232.19 207.45h1.26v1.26h-1.26zM234.41 207.45h1.26v1.26h-1.26zM236.64 207.45h1.26v1.26h-1.26zM238.86 207.45h1.26v1.26h-1.26zM241.09 207.45h1.26v1.26h-1.26zM243.31 207.45h1.26v1.26h-1.26zM228.85 208.57h1.26v1.26h-1.26zM233.30 208.57h1.26v1.26h-1.26zM237.75 208.57h1.26v1.26h-1.26zM242.20 208.57h1.26v1.26h-1.26zM225.52 209.68h1.26v1.26h-1.26zM227.74 209.68h1.26v1.26h-1.26zM229.97 209.68h1.26v1.26h-1.26zM232.19 209.68h1.26v1.26h-1.26zM234.41 209.68h1.26v1.26h-1.26zM236.64 209.68h1.26v1.26h-1.26zM238.86 209.68h1.26v1.26h-1.26zM241.09 209.68h1.26v1.26h-1.26zM243.31 209.68h1.26v1.26h-1.26zM226.63 210.79h1.26v1.26h-1.26zM231.08 210.79h1.26v1.26h-1.26zM235.53 210.79h1.26v1.26h-1.26zM239.97 210.79h1.26v1.26h-1.26zM244.42 210.79h1.26v1.26h-1.26zM225.52 211.90h1.26v1.26h-1.26zM227.74 211.90h1.26v1.26h-1.26zM229.97 211.90h1.26v1.26h-1.26zM232.19 211.90h1.26v1.26h-1.26zM234.41 211.90h1.26v1.26h-1.26zM236.64 211.90h1.26v1.26h-1.26zM238.86 211.90h1.26v1.26h-1.26zM241.09 211.90h1.26v1.26h-1.26zM243.31 211.90h1.26v1.26h-1.26zM228.85 213.01h1.26v1.26h-1.26zM233.30 213.01h1.26v1.26h-1.26zM237.75 213.01h1.26v1.26h-1.26zM242.20 213.01h1.26v1.26h-1.26zM225.52 214.13h1.26v1.26h-1.26zM227.74 214.13h1.26v1.26h-1.26zM229.97 214.13h1.26v1.26h-1.26zM232.19 214.13h1.26v1.26h-1.26zM234.41 214.13h1.26v1.26h-1.26zM236.64 214.13h1.26v1.26h-1.26zM238.86 214.13h1.26v1.26h-1.26zM241.09 214.13h1.26v1.26h-1.26zM243.31 214.13h1.26v1.26h-1.26zM226.63 215.24h1.26v1.26h-1.26zM231.08 215.24h1.26v1.26h-1.26zM235.53 215.24h1.26v1.26h-1.26zM239.97 215.24h1.26v1.26h-1.26zM244.42 215.24h1.26v1.26h-1.26zM225.52 216.35h1.26v1.26h-1.26zM227.74 216.35h1.26v1.26h-1.26zM229.97 216.35h1.26v1.26h-1.26zM232.19 216.35h1.26v1.26h-1.26zM234.41 216.35h1.26v1.26h-1.26zM236.64 216.35h1.26v1.26h-1.26zM238.86 216.35h1.26v1.26h-1.26zM241.09 216.35h1.26v1.26h-1.26zM243.31 216.35h1.26v1.26h-1.26zM228.85 217.46h1.26v1.26h-1.26zM233.30 217.46h1.26v1.26h-1.26zM237.75 217.46h1.26v1.26h-1.26zM242.20 217.46h1.26v1.26h-1.26zM225.52 218.57h1.26v1.26h-1.26zM227.74 218.57h1.26v1.26h-1.26zM229.97 218.57h1.26v1.26h-1.26zM232.19 218.57h1.26v1.26h-1.26zM234.41 218.57h1.26v1.26h-1.26zM236.64 218.57h1.26v1.26h-1.26zM238.86 218.57h1.26v1.26h-1.26zM241.09 218.57h1.26v1.26h-1.26zM243.31 218.57h1.26v1.26h-1.26zM226.63 219.69h1.26v1.26h-1.26zM231.08 219.69h1.26v1.26h-1.26zM235.53 219.69h1.26v1.26h-1.26zM239.97 219.69h1.26v1.26h-1.26zM244.42 219.69h1.26v1.26h-1.26zM225.52 220.80h1.26v1.26h-1.26zM227.74 220.80h1.26v1.26h-1.26zM229.97 220.80h1.26v1.26h-1.26zM232.19 220.80h1.26v1.26h-1.26zM234.41 220.80h1.26v1.26h-1.26zM236.64 220.80h1.26v1.26h-1.26zM238.86 220.80h1.26v1.26h-1.26zM241.09 220.80h1.26v1.26h-1.26zM243.31 220.80h1.26v1.26h-1.26zM228.85 221.91h1.26v1.26h-1.26zM233.30 221.91h1.26v1.26h-1.26zM237.75 221.91h1.26v1.26h-1.26zM242.20 221.91h1.26v1.26h-1.26zM225.52 223.02h1.26v1.26h-1.26zM227.74 223.02h1.26v1.26h-1.26zM229.97 223.02h1.26v1.26h-1.26zM232.19 223.02h1.26v1.26h-1.26zM234.41 223.02h1.26v1.26h-1.26zM236.64 223.02h1.26v1.26h-1.26zM238.86 223.02h1.26v1.26h-1.26zM241.09 223.02h1.26v1.26h-1.26zM243.31 223.02h1.26v1.26h-1.26zM226.63 224.13h1.26v1.26h-1.26zM231.08 224.13h1.26v1.26h-1.26zM235.53 224.13h1.26v1.26h-1.26zM239.97 224.13h1.26v1.26h-1.26zM244.42 224.13h1.26v1.26h-1.26zM225.52 225.25h1.26v1.26h-1.26zM227.74 225.25h1.26v1.26h-1.26zM229.97 225.25h1.26v1.26h-1.26zM232.19 225.25h1.26v1.26h-1.26zM234.41 225.25h1.26v1.26h-1.26zM236.64 225.25h1.26v1.26h-1.26zM238.86 225.25h1.26v1.26h-1.26zM241.09 225.25h1.26v1.26h-1.26zM243.31 225.25h1.26v1.26h-1.26zM228.85 226.36h1.26v1.26h-1.26zM233.30 226.36h1.26v1.26h-1.26zM237.75 226.36h1.26v1.26h-1.26zM242.20 226.36h1.26v1.26h-1.26zM225.52 227.47h1.26v1.26h-1.26zM227.74 227.47h1.26v1.26h-1.26zM229.97 227.47h1.26v1.26h-1.26zM232.19 227.47h1.26v1.26h-1.26zM234.41 227.47h1.26v1.26h-1.26zM236.64 227.47h1.26v1.26h-1.26zM238.86 227.47h1.26v1.26h-1.26zM241.09 227.47h1.26v1.26h-1.26zM243.31 227.47h1.26v1.26h-1.26zM226.63 228.58h1.26v1.26h-1.26zM231.08 228.58h1.26v1.26h-1.26zM235.53 228.58h1.26v1.26h-1.26zM239.97 228.58h1.26v1.26h-1.26zM244.42 228.58h1.26v1.26h-1.26zM225.52 229.69h1.26v1.26h-1.26zM227.74 229.69h1.26v1.26h-1.26zM229.97 229.69h1.26v1.26h-1.26zM232.19 229.69h1.26v1.26h-1.26zM234.41 229.69h1.26v1.26h-1.26zM236.64 229.69h1.26v1.26h-1.26zM238.86 229.69h1.26v1.26h-1.26zM241.09 229.69h1.26v1.26h-1.26zM243.31 229.69h1.26v1.26h-1.26zM228.85 230.81h1.26v1.26h-1.26zM233.30 230.81h1.26v1.26h-1.26zM237.75 230.81h1.26v1.26h-1.26zM242.20 230.81h1.26v1.26h-1.26zM225.52 231.92h1.26v1.26h-1.26zM227.74 231.92h1.26v1.26h-1.26zM229.97 231.92h1.26v1.26h-1.26zM232.19 231.92h1.26v1.26h-1.26zM234.41 231.92h1.26v1.26h-1.26zM236.64 231.92h1.26v1.26h-1.26zM238.86 231.92h1.26v1.26h-1.26zM241.09 231.92h1.26v1.26h-1.26zM243.31 231.92h1.26v1.26h-1.26zM226.63 233.03h1.26v1.26h-1.26zM231.08 233.03h1.26v1.26h-1.26zM235.53 233.03h1.26v1.26h-1.26zM239.97 233.03h1.26v1.26h-1.26zM244.42 233.03h1.26v1.26h-1.26zM225.52 234.14h1.26v1.26h-1.26zM227.74 234.14h1.26v1.26h-1.26zM229.97 234.14h1.26v1.26h-1.26zM232.19 234.14h1.26v1.26h-1.26zM234.41 234.14h1.26v1.26h-1.26zM236.64 234.14h1.26v1.26h-1.26zM238.86 234.14h1.26v1.26h-1.26zM241.09 234.14h1.26v1.26h-1.26zM243.31 234.14h1.26v1.26h-1.26zM228.85 235.25h1.26v1.26h-1.26zM233.30 235.25h1.26v1.26h-1.26zM237.75 235.25h1.26v1.26h-1.26zM242.20 235.25h1.26v1.26h-1.26zM225.52 236.37h1.26v1.26h-1.26zM227.74 236.37h1.26v1.26h-1.26zM229.97 236.37h1.26v1.26h-1.26zM232.19 236.37h1.26v1.26h-1.26zM234.41 236.37h1.26v1.26h-1.26zM236.64 236.37h1.26v1.26h-1.26zM238.86 236.37h1.26v1.26h-1.26zM241.09 236.37h1.26v1.26h-1.26zM243.31 236.37h1.26v1.26h-1.26zM226.63 237.48h1.26v1.26h-1.26zM231.08 237.48h1.26v1.26h-1.26zM235.53 237.48h1.26v1.26h-1.26zM239.97 237.48h1.26v1.26h-1.26zM244.42 237.48h1.26v1.26h-1.26zM225.52 238.59h1.26v1.26h-1.26zM227.74 238.59h1.26v1.26h-1.26zM229.97 238.59h1.26v1.26h-1.26zM232.19 238.59h1.26v1.26h-1.26zM234.41 238.59h1.26v1.26h-1.26zM236.64 238.59h1.26v1.26h-1.26zM238.86 238.59h1.26v1.26h-1.26zM241.09 238.59h1.26v1.26h-1.26zM243.31 238.59h1.26v1.26h-1.26zM228.85 239.70h1.26v1.26h-1.26zM233.30 239.70h1.26v1.26h-1.26zM237.75 239.70h1.26v1.26h-1.26zM242.20 239.70h1.26v1.26h-1.26zM225.52 240.81h1.26v1.26h-1.26zM227.74 240.81h1.26v1.26h-1.26zM229.97 240.81h1.26v1.26h-1.26zM232.19 240.81h1.26v1.26h-1.26zM234.41 240.81h1.26v1.26h-1.26zM236.64 240.81h1.26v1.26h-1.26zM238.86 240.81h1.26v1.26h-1.26zM241.09 240.81h1.26v1.26h-1.26zM243.31 240.81h1.26v1.26h-1.26zM226.63 241.93h1.26v1.26h-1.26zM231.08 241.93h1.26v1.26h-1.26zM235.53 241.93h1.26v1.26h-1.26zM239.97 241.93h1.26v1.26h-1.26zM244.42 241.93h1.26v1.26h-1.26zM225.52 243.04h1.26v1.26h-1.26zM227.74 243.04h1.26v1.26h-1.26zM229.97 243.04h1.26v1.26h-1.26zM232.19 243.04h1.26v1.26h-1.26zM234.41 243.04h1.26v1.26h-1.26zM236.64 243.04h1.26v1.26h-1.26zM238.86 243.04h1.26v1.26h-1.26zM241.09 243.04h1.26v1.26h-1.26zM243.31 243.04h1.26v1.26h-1.26zM228.85 244.15h1.26v1.26h-1.26zM233.30 244.15h1.26v1.26h-1.26zM237.75 244.15h1.26v1.26h-1.26zM242.20 244.15h1.26v1.26h-1.26zM225.52 245.26h1.26v1.26h-1.26zM227.74 245.26h1.26v1.26h-1.26zM229.97 245.26h1.26v1.26h-1.26zM232.19 245.26h1.26v1.26h-1.26zM234.41 245.26h1.26v1.26h-1.26zM236.64 245.26h1.26v1.26h-1.26zM238.86 245.26h1.26v1.26h-1.26zM241.09 245.26h1.26v1.26h-1.26zM243.31 245.26h1.26v1.26h-1.26zM226.63 246.37h1.26v1.26h-1.26zM231.08 246.37h1.26v1.26h-1.26zM235.53 246.37h1.26v1.26h-1.26zM239.97 246.37h1.26v1.26h-1.26zM244.42 246.37h1.26v1.26h-1.26zM225.52 247.49h1.26v1.26h-1.26zM227.74 247.49h1.26v1.26h-1.26zM229.97 247.49h1.26v1.26h-1.26zM232.19 247.49h1.26v1.26h-1.26zM234.41 247.49h1.26v1.26h-1.26zM236.64 247.49h1.26v1.26h-1.26zM238.86 247.49h1.26v1.26h-1.26zM241.09 247.49h1.26v1.26h-1.26zM243.31 247.49h1.26v1.26h-1.26zM228.85 248.60h1.26v1.26h-1.26zM233.30 248.60h1.26v1.26h-1.26zM237.75 248.60h1.26v1.26h-1.26zM242.20 248.60h1.26v1.26h-1.26z"/>
<path d="M227.70 247.80V107.40H243.85V247.80" fill="none" stroke="#262626" stroke-width="1.1" stroke-linejoin="round"/>
<path d="M272.70 247.80V106.72H288.85V247.80" fill="url(#pDot)" stroke="#262626" stroke-width="1.1" stroke-linejoin="round"/>
<path d="M293.00 247.80V82.29H309.15V247.80" fill="url(#pDiag)" stroke="#262626" stroke-width="1.1" stroke-linejoin="round"/>
<path d="M313.30 247.80V186.18H329.45V247.80" fill="url(#pDash)" stroke="#262626" stroke-width="1.1" stroke-linejoin="round"/>
<clipPath id="c2"><rect x="333.60" y="146.28" width="16.15" height="101.52"/></clipPath><path clip-path="url(#c2)" fill="#000" d="M333.38 144.07h1.26v1.26h-1.26zM337.83 144.07h1.26v1.26h-1.26zM342.28 144.07h1.26v1.26h-1.26zM346.73 144.07h1.26v1.26h-1.26zM332.27 145.18h1.26v1.26h-1.26zM334.49 145.18h1.26v1.26h-1.26zM336.72 145.18h1.26v1.26h-1.26zM338.94 145.18h1.26v1.26h-1.26zM341.17 145.18h1.26v1.26h-1.26zM343.39 145.18h1.26v1.26h-1.26zM345.61 145.18h1.26v1.26h-1.26zM347.84 145.18h1.26v1.26h-1.26zM350.06 145.18h1.26v1.26h-1.26zM335.61 146.29h1.26v1.26h-1.26zM340.05 146.29h1.26v1.26h-1.26zM344.50 146.29h1.26v1.26h-1.26zM348.95 146.29h1.26v1.26h-1.26zM332.27 147.41h1.26v1.26h-1.26zM334.49 147.41h1.26v1.26h-1.26zM336.72 147.41h1.26v1.26h-1.26zM338.94 147.41h1.26v1.26h-1.26zM341.17 147.41h1.26v1.26h-1.26zM343.39 147.41h1.26v1.26h-1.26zM345.61 147.41h1.26v1.26h-1.26zM347.84 147.41h1.26v1.26h-1.26zM350.06 147.41h1.26v1.26h-1.26zM333.38 148.52h1.26v1.26h-1.26zM337.83 148.52h1.26v1.26h-1.26zM342.28 148.52h1.26v1.26h-1.26zM346.73 148.52h1.26v1.26h-1.26zM332.27 149.63h1.26v1.26h-1.26zM334.49 149.63h1.26v1.26h-1.26zM336.72 149.63h1.26v1.26h-1.26zM338.94 149.63h1.26v1.26h-1.26zM341.17 149.63h1.26v1.26h-1.26zM343.39 149.63h1.26v1.26h-1.26zM345.61 149.63h1.26v1.26h-1.26zM347.84 149.63h1.26v1.26h-1.26zM350.06 149.63h1.26v1.26h-1.26zM335.61 150.74h1.26v1.26h-1.26zM340.05 150.74h1.26v1.26h-1.26zM344.50 150.74h1.26v1.26h-1.26zM348.95 150.74h1.26v1.26h-1.26zM332.27 151.85h1.26v1.26h-1.26zM334.49 151.85h1.26v1.26h-1.26zM336.72 151.85h1.26v1.26h-1.26zM338.94 151.85h1.26v1.26h-1.26zM341.17 151.85h1.26v1.26h-1.26zM343.39 151.85h1.26v1.26h-1.26zM345.61 151.85h1.26v1.26h-1.26zM347.84 151.85h1.26v1.26h-1.26zM350.06 151.85h1.26v1.26h-1.26zM333.38 152.97h1.26v1.26h-1.26zM337.83 152.97h1.26v1.26h-1.26zM342.28 152.97h1.26v1.26h-1.26zM346.73 152.97h1.26v1.26h-1.26zM332.27 154.08h1.26v1.26h-1.26zM334.49 154.08h1.26v1.26h-1.26zM336.72 154.08h1.26v1.26h-1.26zM338.94 154.08h1.26v1.26h-1.26zM341.17 154.08h1.26v1.26h-1.26zM343.39 154.08h1.26v1.26h-1.26zM345.61 154.08h1.26v1.26h-1.26zM347.84 154.08h1.26v1.26h-1.26zM350.06 154.08h1.26v1.26h-1.26zM335.61 155.19h1.26v1.26h-1.26zM340.05 155.19h1.26v1.26h-1.26zM344.50 155.19h1.26v1.26h-1.26zM348.95 155.19h1.26v1.26h-1.26zM332.27 156.30h1.26v1.26h-1.26zM334.49 156.30h1.26v1.26h-1.26zM336.72 156.30h1.26v1.26h-1.26zM338.94 156.30h1.26v1.26h-1.26zM341.17 156.30h1.26v1.26h-1.26zM343.39 156.30h1.26v1.26h-1.26zM345.61 156.30h1.26v1.26h-1.26zM347.84 156.30h1.26v1.26h-1.26zM350.06 156.30h1.26v1.26h-1.26zM333.38 157.41h1.26v1.26h-1.26zM337.83 157.41h1.26v1.26h-1.26zM342.28 157.41h1.26v1.26h-1.26zM346.73 157.41h1.26v1.26h-1.26zM332.27 158.53h1.26v1.26h-1.26zM334.49 158.53h1.26v1.26h-1.26zM336.72 158.53h1.26v1.26h-1.26zM338.94 158.53h1.26v1.26h-1.26zM341.17 158.53h1.26v1.26h-1.26zM343.39 158.53h1.26v1.26h-1.26zM345.61 158.53h1.26v1.26h-1.26zM347.84 158.53h1.26v1.26h-1.26zM350.06 158.53h1.26v1.26h-1.26zM335.61 159.64h1.26v1.26h-1.26zM340.05 159.64h1.26v1.26h-1.26zM344.50 159.64h1.26v1.26h-1.26zM348.95 159.64h1.26v1.26h-1.26zM332.27 160.75h1.26v1.26h-1.26zM334.49 160.75h1.26v1.26h-1.26zM336.72 160.75h1.26v1.26h-1.26zM338.94 160.75h1.26v1.26h-1.26zM341.17 160.75h1.26v1.26h-1.26zM343.39 160.75h1.26v1.26h-1.26zM345.61 160.75h1.26v1.26h-1.26zM347.84 160.75h1.26v1.26h-1.26zM350.06 160.75h1.26v1.26h-1.26zM333.38 161.86h1.26v1.26h-1.26zM337.83 161.86h1.26v1.26h-1.26zM342.28 161.86h1.26v1.26h-1.26zM346.73 161.86h1.26v1.26h-1.26zM332.27 162.97h1.26v1.26h-1.26zM334.49 162.97h1.26v1.26h-1.26zM336.72 162.97h1.26v1.26h-1.26zM338.94 162.97h1.26v1.26h-1.26zM341.17 162.97h1.26v1.26h-1.26zM343.39 162.97h1.26v1.26h-1.26zM345.61 162.97h1.26v1.26h-1.26zM347.84 162.97h1.26v1.26h-1.26zM350.06 162.97h1.26v1.26h-1.26zM335.61 164.09h1.26v1.26h-1.26zM340.05 164.09h1.26v1.26h-1.26zM344.50 164.09h1.26v1.26h-1.26zM348.95 164.09h1.26v1.26h-1.26zM332.27 165.20h1.26v1.26h-1.26zM334.49 165.20h1.26v1.26h-1.26zM336.72 165.20h1.26v1.26h-1.26zM338.94 165.20h1.26v1.26h-1.26zM341.17 165.20h1.26v1.26h-1.26zM343.39 165.20h1.26v1.26h-1.26zM345.61 165.20h1.26v1.26h-1.26zM347.84 165.20h1.26v1.26h-1.26zM350.06 165.20h1.26v1.26h-1.26zM333.38 166.31h1.26v1.26h-1.26zM337.83 166.31h1.26v1.26h-1.26zM342.28 166.31h1.26v1.26h-1.26zM346.73 166.31h1.26v1.26h-1.26zM332.27 167.42h1.26v1.26h-1.26zM334.49 167.42h1.26v1.26h-1.26zM336.72 167.42h1.26v1.26h-1.26zM338.94 167.42h1.26v1.26h-1.26zM341.17 167.42h1.26v1.26h-1.26zM343.39 167.42h1.26v1.26h-1.26zM345.61 167.42h1.26v1.26h-1.26zM347.84 167.42h1.26v1.26h-1.26zM350.06 167.42h1.26v1.26h-1.26zM335.61 168.53h1.26v1.26h-1.26zM340.05 168.53h1.26v1.26h-1.26zM344.50 168.53h1.26v1.26h-1.26zM348.95 168.53h1.26v1.26h-1.26zM332.27 169.65h1.26v1.26h-1.26zM334.49 169.65h1.26v1.26h-1.26zM336.72 169.65h1.26v1.26h-1.26zM338.94 169.65h1.26v1.26h-1.26zM341.17 169.65h1.26v1.26h-1.26zM343.39 169.65h1.26v1.26h-1.26zM345.61 169.65h1.26v1.26h-1.26zM347.84 169.65h1.26v1.26h-1.26zM350.06 169.65h1.26v1.26h-1.26zM333.38 170.76h1.26v1.26h-1.26zM337.83 170.76h1.26v1.26h-1.26zM342.28 170.76h1.26v1.26h-1.26zM346.73 170.76h1.26v1.26h-1.26zM332.27 171.87h1.26v1.26h-1.26zM334.49 171.87h1.26v1.26h-1.26zM336.72 171.87h1.26v1.26h-1.26zM338.94 171.87h1.26v1.26h-1.26zM341.17 171.87h1.26v1.26h-1.26zM343.39 171.87h1.26v1.26h-1.26zM345.61 171.87h1.26v1.26h-1.26zM347.84 171.87h1.26v1.26h-1.26zM350.06 171.87h1.26v1.26h-1.26zM335.61 172.98h1.26v1.26h-1.26zM340.05 172.98h1.26v1.26h-1.26zM344.50 172.98h1.26v1.26h-1.26zM348.95 172.98h1.26v1.26h-1.26zM332.27 174.09h1.26v1.26h-1.26zM334.49 174.09h1.26v1.26h-1.26zM336.72 174.09h1.26v1.26h-1.26zM338.94 174.09h1.26v1.26h-1.26zM341.17 174.09h1.26v1.26h-1.26zM343.39 174.09h1.26v1.26h-1.26zM345.61 174.09h1.26v1.26h-1.26zM347.84 174.09h1.26v1.26h-1.26zM350.06 174.09h1.26v1.26h-1.26zM333.38 175.21h1.26v1.26h-1.26zM337.83 175.21h1.26v1.26h-1.26zM342.28 175.21h1.26v1.26h-1.26zM346.73 175.21h1.26v1.26h-1.26zM332.27 176.32h1.26v1.26h-1.26zM334.49 176.32h1.26v1.26h-1.26zM336.72 176.32h1.26v1.26h-1.26zM338.94 176.32h1.26v1.26h-1.26zM341.17 176.32h1.26v1.26h-1.26zM343.39 176.32h1.26v1.26h-1.26zM345.61 176.32h1.26v1.26h-1.26zM347.84 176.32h1.26v1.26h-1.26zM350.06 176.32h1.26v1.26h-1.26zM335.61 177.43h1.26v1.26h-1.26zM340.05 177.43h1.26v1.26h-1.26zM344.50 177.43h1.26v1.26h-1.26zM348.95 177.43h1.26v1.26h-1.26zM332.27 178.54h1.26v1.26h-1.26zM334.49 178.54h1.26v1.26h-1.26zM336.72 178.54h1.26v1.26h-1.26zM338.94 178.54h1.26v1.26h-1.26zM341.17 178.54h1.26v1.26h-1.26zM343.39 178.54h1.26v1.26h-1.26zM345.61 178.54h1.26v1.26h-1.26zM347.84 178.54h1.26v1.26h-1.26zM350.06 178.54h1.26v1.26h-1.26zM333.38 179.65h1.26v1.26h-1.26zM337.83 179.65h1.26v1.26h-1.26zM342.28 179.65h1.26v1.26h-1.26zM346.73 179.65h1.26v1.26h-1.26zM332.27 180.77h1.26v1.26h-1.26zM334.49 180.77h1.26v1.26h-1.26zM336.72 180.77h1.26v1.26h-1.26zM338.94 180.77h1.26v1.26h-1.26zM341.17 180.77h1.26v1.26h-1.26zM343.39 180.77h1.26v1.26h-1.26zM345.61 180.77h1.26v1.26h-1.26zM347.84 180.77h1.26v1.26h-1.26zM350.06 180.77h1.26v1.26h-1.26zM335.61 181.88h1.26v1.26h-1.26zM340.05 181.88h1.26v1.26h-1.26zM344.50 181.88h1.26v1.26h-1.26zM348.95 181.88h1.26v1.26h-1.26zM332.27 182.99h1.26v1.26h-1.26zM334.49 182.99h1.26v1.26h-1.26zM336.72 182.99h1.26v1.26h-1.26zM338.94 182.99h1.26v1.26h-1.26zM341.17 182.99h1.26v1.26h-1.26zM343.39 182.99h1.26v1.26h-1.26zM345.61 182.99h1.26v1.26h-1.26zM347.84 182.99h1.26v1.26h-1.26zM350.06 182.99h1.26v1.26h-1.26zM333.38 184.10h1.26v1.26h-1.26zM337.83 184.10h1.26v1.26h-1.26zM342.28 184.10h1.26v1.26h-1.26zM346.73 184.10h1.26v1.26h-1.26zM332.27 185.21h1.26v1.26h-1.26zM334.49 185.21h1.26v1.26h-1.26zM336.72 185.21h1.26v1.26h-1.26zM338.94 185.21h1.26v1.26h-1.26zM341.17 185.21h1.26v1.26h-1.26zM343.39 185.21h1.26v1.26h-1.26zM345.61 185.21h1.26v1.26h-1.26zM347.84 185.21h1.26v1.26h-1.26zM350.06 185.21h1.26v1.26h-1.26zM335.61 186.33h1.26v1.26h-1.26zM340.05 186.33h1.26v1.26h-1.26zM344.50 186.33h1.26v1.26h-1.26zM348.95 186.33h1.26v1.26h-1.26zM332.27 187.44h1.26v1.26h-1.26zM334.49 187.44h1.26v1.26h-1.26zM336.72 187.44h1.26v1.26h-1.26zM338.94 187.44h1.26v1.26h-1.26zM341.17 187.44h1.26v1.26h-1.26zM343.39 187.44h1.26v1.26h-1.26zM345.61 187.44h1.26v1.26h-1.26zM347.84 187.44h1.26v1.26h-1.26zM350.06 187.44h1.26v1.26h-1.26zM333.38 188.55h1.26v1.26h-1.26zM337.83 188.55h1.26v1.26h-1.26zM342.28 188.55h1.26v1.26h-1.26zM346.73 188.55h1.26v1.26h-1.26zM332.27 189.66h1.26v1.26h-1.26zM334.49 189.66h1.26v1.26h-1.26zM336.72 189.66h1.26v1.26h-1.26zM338.94 189.66h1.26v1.26h-1.26zM341.17 189.66h1.26v1.26h-1.26zM343.39 189.66h1.26v1.26h-1.26zM345.61 189.66h1.26v1.26h-1.26zM347.84 189.66h1.26v1.26h-1.26zM350.06 189.66h1.26v1.26h-1.26zM335.61 190.77h1.26v1.26h-1.26zM340.05 190.77h1.26v1.26h-1.26zM344.50 190.77h1.26v1.26h-1.26zM348.95 190.77h1.26v1.26h-1.26zM332.27 191.89h1.26v1.26h-1.26zM334.49 191.89h1.26v1.26h-1.26zM336.72 191.89h1.26v1.26h-1.26zM338.94 191.89h1.26v1.26h-1.26zM341.17 191.89h1.26v1.26h-1.26zM343.39 191.89h1.26v1.26h-1.26zM345.61 191.89h1.26v1.26h-1.26zM347.84 191.89h1.26v1.26h-1.26zM350.06 191.89h1.26v1.26h-1.26zM333.38 193.00h1.26v1.26h-1.26zM337.83 193.00h1.26v1.26h-1.26zM342.28 193.00h1.26v1.26h-1.26zM346.73 193.00h1.26v1.26h-1.26zM332.27 194.11h1.26v1.26h-1.26zM334.49 194.11h1.26v1.26h-1.26zM336.72 194.11h1.26v1.26h-1.26zM338.94 194.11h1.26v1.26h-1.26zM341.17 194.11h1.26v1.26h-1.26zM343.39 194.11h1.26v1.26h-1.26zM345.61 194.11h1.26v1.26h-1.26zM347.84 194.11h1.26v1.26h-1.26zM350.06 194.11h1.26v1.26h-1.26zM335.61 195.22h1.26v1.26h-1.26zM340.05 195.22h1.26v1.26h-1.26zM344.50 195.22h1.26v1.26h-1.26zM348.95 195.22h1.26v1.26h-1.26zM332.27 196.33h1.26v1.26h-1.26zM334.49 196.33h1.26v1.26h-1.26zM336.72 196.33h1.26v1.26h-1.26zM338.94 196.33h1.26v1.26h-1.26zM341.17 196.33h1.26v1.26h-1.26zM343.39 196.33h1.26v1.26h-1.26zM345.61 196.33h1.26v1.26h-1.26zM347.84 196.33h1.26v1.26h-1.26zM350.06 196.33h1.26v1.26h-1.26zM333.38 197.45h1.26v1.26h-1.26zM337.83 197.45h1.26v1.26h-1.26zM342.28 197.45h1.26v1.26h-1.26zM346.73 197.45h1.26v1.26h-1.26zM332.27 198.56h1.26v1.26h-1.26zM334.49 198.56h1.26v1.26h-1.26zM336.72 198.56h1.26v1.26h-1.26zM338.94 198.56h1.26v1.26h-1.26zM341.17 198.56h1.26v1.26h-1.26zM343.39 198.56h1.26v1.26h-1.26zM345.61 198.56h1.26v1.26h-1.26zM347.84 198.56h1.26v1.26h-1.26zM350.06 198.56h1.26v1.26h-1.26zM335.61 199.67h1.26v1.26h-1.26zM340.05 199.67h1.26v1.26h-1.26zM344.50 199.67h1.26v1.26h-1.26zM348.95 199.67h1.26v1.26h-1.26zM332.27 200.78h1.26v1.26h-1.26zM334.49 200.78h1.26v1.26h-1.26zM336.72 200.78h1.26v1.26h-1.26zM338.94 200.78h1.26v1.26h-1.26zM341.17 200.78h1.26v1.26h-1.26zM343.39 200.78h1.26v1.26h-1.26zM345.61 200.78h1.26v1.26h-1.26zM347.84 200.78h1.26v1.26h-1.26zM350.06 200.78h1.26v1.26h-1.26zM333.38 201.89h1.26v1.26h-1.26zM337.83 201.89h1.26v1.26h-1.26zM342.28 201.89h1.26v1.26h-1.26zM346.73 201.89h1.26v1.26h-1.26zM332.27 203.01h1.26v1.26h-1.26zM334.49 203.01h1.26v1.26h-1.26zM336.72 203.01h1.26v1.26h-1.26zM338.94 203.01h1.26v1.26h-1.26zM341.17 203.01h1.26v1.26h-1.26zM343.39 203.01h1.26v1.26h-1.26zM345.61 203.01h1.26v1.26h-1.26zM347.84 203.01h1.26v1.26h-1.26zM350.06 203.01h1.26v1.26h-1.26zM335.61 204.12h1.26v1.26h-1.26zM340.05 204.12h1.26v1.26h-1.26zM344.50 204.12h1.26v1.26h-1.26zM348.95 204.12h1.26v1.26h-1.26zM332.27 205.23h1.26v1.26h-1.26zM334.49 205.23h1.26v1.26h-1.26zM336.72 205.23h1.26v1.26h-1.26zM338.94 205.23h1.26v1.26h-1.26zM341.17 205.23h1.26v1.26h-1.26zM343.39 205.23h1.26v1.26h-1.26zM345.61 205.23h1.26v1.26h-1.26zM347.84 205.23h1.26v1.26h-1.26zM350.06 205.23h1.26v1.26h-1.26zM333.38 206.34h1.26v1.26h-1.26zM337.83 206.34h1.26v1.26h-1.26zM342.28 206.34h1.26v1.26h-1.26zM346.73 206.34h1.26v1.26h-1.26zM332.27 207.45h1.26v1.26h-1.26zM334.49 207.45h1.26v1.26h-1.26zM336.72 207.45h1.26v1.26h-1.26zM338.94 207.45h1.26v1.26h-1.26zM341.17 207.45h1.26v1.26h-1.26zM343.39 207.45h1.26v1.26h-1.26zM345.61 207.45h1.26v1.26h-1.26zM347.84 207.45h1.26v1.26h-1.26zM350.06 207.45h1.26v1.26h-1.26zM335.61 208.57h1.26v1.26h-1.26zM340.05 208.57h1.26v1.26h-1.26zM344.50 208.57h1.26v1.26h-1.26zM348.95 208.57h1.26v1.26h-1.26zM332.27 209.68h1.26v1.26h-1.26zM334.49 209.68h1.26v1.26h-1.26zM336.72 209.68h1.26v1.26h-1.26zM338.94 209.68h1.26v1.26h-1.26zM341.17 209.68h1.26v1.26h-1.26zM343.39 209.68h1.26v1.26h-1.26zM345.61 209.68h1.26v1.26h-1.26zM347.84 209.68h1.26v1.26h-1.26zM350.06 209.68h1.26v1.26h-1.26zM333.38 210.79h1.26v1.26h-1.26zM337.83 210.79h1.26v1.26h-1.26zM342.28 210.79h1.26v1.26h-1.26zM346.73 210.79h1.26v1.26h-1.26zM332.27 211.90h1.26v1.26h-1.26zM334.49 211.90h1.26v1.26h-1.26zM336.72 211.90h1.26v1.26h-1.26zM338.94 211.90h1.26v1.26h-1.26zM341.17 211.90h1.26v1.26h-1.26zM343.39 211.90h1.26v1.26h-1.26zM345.61 211.90h1.26v1.26h-1.26zM347.84 211.90h1.26v1.26h-1.26zM350.06 211.90h1.26v1.26h-1.26zM335.61 213.01h1.26v1.26h-1.26zM340.05 213.01h1.26v1.26h-1.26zM344.50 213.01h1.26v1.26h-1.26zM348.95 213.01h1.26v1.26h-1.26zM332.27 214.13h1.26v1.26h-1.26zM334.49 214.13h1.26v1.26h-1.26zM336.72 214.13h1.26v1.26h-1.26zM338.94 214.13h1.26v1.26h-1.26zM341.17 214.13h1.26v1.26h-1.26zM343.39 214.13h1.26v1.26h-1.26zM345.61 214.13h1.26v1.26h-1.26zM347.84 214.13h1.26v1.26h-1.26zM350.06 214.13h1.26v1.26h-1.26zM333.38 215.24h1.26v1.26h-1.26zM337.83 215.24h1.26v1.26h-1.26zM342.28 215.24h1.26v1.26h-1.26zM346.73 215.24h1.26v1.26h-1.26zM332.27 216.35h1.26v1.26h-1.26zM334.49 216.35h1.26v1.26h-1.26zM336.72 216.35h1.26v1.26h-1.26zM338.94 216.35h1.26v1.26h-1.26zM341.17 216.35h1.26v1.26h-1.26zM343.39 216.35h1.26v1.26h-1.26zM345.61 216.35h1.26v1.26h-1.26zM347.84 216.35h1.26v1.26h-1.26zM350.06 216.35h1.26v1.26h-1.26zM335.61 217.46h1.26v1.26h-1.26zM340.05 217.46h1.26v1.26h-1.26zM344.50 217.46h1.26v1.26h-1.26zM348.95 217.46h1.26v1.26h-1.26zM332.27 218.57h1.26v1.26h-1.26zM334.49 218.57h1.26v1.26h-1.26zM336.72 218.57h1.26v1.26h-1.26zM338.94 218.57h1.26v1.26h-1.26zM341.17 218.57h1.26v1.26h-1.26zM343.39 218.57h1.26v1.26h-1.26zM345.61 218.57h1.26v1.26h-1.26zM347.84 218.57h1.26v1.26h-1.26zM350.06 218.57h1.26v1.26h-1.26zM333.38 219.69h1.26v1.26h-1.26zM337.83 219.69h1.26v1.26h-1.26zM342.28 219.69h1.26v1.26h-1.26zM346.73 219.69h1.26v1.26h-1.26zM332.27 220.80h1.26v1.26h-1.26zM334.49 220.80h1.26v1.26h-1.26zM336.72 220.80h1.26v1.26h-1.26zM338.94 220.80h1.26v1.26h-1.26zM341.17 220.80h1.26v1.26h-1.26zM343.39 220.80h1.26v1.26h-1.26zM345.61 220.80h1.26v1.26h-1.26zM347.84 220.80h1.26v1.26h-1.26zM350.06 220.80h1.26v1.26h-1.26zM335.61 221.91h1.26v1.26h-1.26zM340.05 221.91h1.26v1.26h-1.26zM344.50 221.91h1.26v1.26h-1.26zM348.95 221.91h1.26v1.26h-1.26zM332.27 223.02h1.26v1.26h-1.26zM334.49 223.02h1.26v1.26h-1.26zM336.72 223.02h1.26v1.26h-1.26zM338.94 223.02h1.26v1.26h-1.26zM341.17 223.02h1.26v1.26h-1.26zM343.39 223.02h1.26v1.26h-1.26zM345.61 223.02h1.26v1.26h-1.26zM347.84 223.02h1.26v1.26h-1.26zM350.06 223.02h1.26v1.26h-1.26zM333.38 224.13h1.26v1.26h-1.26zM337.83 224.13h1.26v1.26h-1.26zM342.28 224.13h1.26v1.26h-1.26zM346.73 224.13h1.26v1.26h-1.26zM332.27 225.25h1.26v1.26h-1.26zM334.49 225.25h1.26v1.26h-1.26zM336.72 225.25h1.26v1.26h-1.26zM338.94 225.25h1.26v1.26h-1.26zM341.17 225.25h1.26v1.26h-1.26zM343.39 225.25h1.26v1.26h-1.26zM345.61 225.25h1.26v1.26h-1.26zM347.84 225.25h1.26v1.26h-1.26zM350.06 225.25h1.26v1.26h-1.26zM335.61 226.36h1.26v1.26h-1.26zM340.05 226.36h1.26v1.26h-1.26zM344.50 226.36h1.26v1.26h-1.26zM348.95 226.36h1.26v1.26h-1.26zM332.27 227.47h1.26v1.26h-1.26zM334.49 227.47h1.26v1.26h-1.26zM336.72 227.47h1.26v1.26h-1.26zM338.94 227.47h1.26v1.26h-1.26zM341.17 227.47h1.26v1.26h-1.26zM343.39 227.47h1.26v1.26h-1.26zM345.61 227.47h1.26v1.26h-1.26zM347.84 227.47h1.26v1.26h-1.26zM350.06 227.47h1.26v1.26h-1.26zM333.38 228.58h1.26v1.26h-1.26zM337.83 228.58h1.26v1.26h-1.26zM342.28 228.58h1.26v1.26h-1.26zM346.73 228.58h1.26v1.26h-1.26zM332.27 229.69h1.26v1.26h-1.26zM334.49 229.69h1.26v1.26h-1.26zM336.72 229.69h1.26v1.26h-1.26zM338.94 229.69h1.26v1.26h-1.26zM341.17 229.69h1.26v1.26h-1.26zM343.39 229.69h1.26v1.26h-1.26zM345.61 229.69h1.26v1.26h-1.26zM347.84 229.69h1.26v1.26h-1.26zM350.06 229.69h1.26v1.26h-1.26zM335.61 230.81h1.26v1.26h-1.26zM340.05 230.81h1.26v1.26h-1.26zM344.50 230.81h1.26v1.26h-1.26zM348.95 230.81h1.26v1.26h-1.26zM332.27 231.92h1.26v1.26h-1.26zM334.49 231.92h1.26v1.26h-1.26zM336.72 231.92h1.26v1.26h-1.26zM338.94 231.92h1.26v1.26h-1.26zM341.17 231.92h1.26v1.26h-1.26zM343.39 231.92h1.26v1.26h-1.26zM345.61 231.92h1.26v1.26h-1.26zM347.84 231.92h1.26v1.26h-1.26zM350.06 231.92h1.26v1.26h-1.26zM333.38 233.03h1.26v1.26h-1.26zM337.83 233.03h1.26v1.26h-1.26zM342.28 233.03h1.26v1.26h-1.26zM346.73 233.03h1.26v1.26h-1.26zM332.27 234.14h1.26v1.26h-1.26zM334.49 234.14h1.26v1.26h-1.26zM336.72 234.14h1.26v1.26h-1.26zM338.94 234.14h1.26v1.26h-1.26zM341.17 234.14h1.26v1.26h-1.26zM343.39 234.14h1.26v1.26h-1.26zM345.61 234.14h1.26v1.26h-1.26zM347.84 234.14h1.26v1.26h-1.26zM350.06 234.14h1.26v1.26h-1.26zM335.61 235.25h1.26v1.26h-1.26zM340.05 235.25h1.26v1.26h-1.26zM344.50 235.25h1.26v1.26h-1.26zM348.95 235.25h1.26v1.26h-1.26zM332.27 236.37h1.26v1.26h-1.26zM334.49 236.37h1.26v1.26h-1.26zM336.72 236.37h1.26v1.26h-1.26zM338.94 236.37h1.26v1.26h-1.26zM341.17 236.37h1.26v1.26h-1.26zM343.39 236.37h1.26v1.26h-1.26zM345.61 236.37h1.26v1.26h-1.26zM347.84 236.37h1.26v1.26h-1.26zM350.06 236.37h1.26v1.26h-1.26zM333.38 237.48h1.26v1.26h-1.26zM337.83 237.48h1.26v1.26h-1.26zM342.28 237.48h1.26v1.26h-1.26zM346.73 237.48h1.26v1.26h-1.26zM332.27 238.59h1.26v1.26h-1.26zM334.49 238.59h1.26v1.26h-1.26zM336.72 238.59h1.26v1.26h-1.26zM338.94 238.59h1.26v1.26h-1.26zM341.17 238.59h1.26v1.26h-1.26zM343.39 238.59h1.26v1.26h-1.26zM345.61 238.59h1.26v1.26h-1.26zM347.84 238.59h1.26v1.26h-1.26zM350.06 238.59h1.26v1.26h-1.26zM335.61 239.70h1.26v1.26h-1.26zM340.05 239.70h1.26v1.26h-1.26zM344.50 239.70h1.26v1.26h-1.26zM348.95 239.70h1.26v1.26h-1.26zM332.27 240.81h1.26v1.26h-1.26zM334.49 240.81h1.26v1.26h-1.26zM336.72 240.81h1.26v1.26h-1.26zM338.94 240.81h1.26v1.26h-1.26zM341.17 240.81h1.26v1.26h-1.26zM343.39 240.81h1.26v1.26h-1.26zM345.61 240.81h1.26v1.26h-1.26zM347.84 240.81h1.26v1.26h-1.26zM350.06 240.81h1.26v1.26h-1.26zM333.38 241.93h1.26v1.26h-1.26zM337.83 241.93h1.26v1.26h-1.26zM342.28 241.93h1.26v1.26h-1.26zM346.73 241.93h1.26v1.26h-1.26zM332.27 243.04h1.26v1.26h-1.26zM334.49 243.04h1.26v1.26h-1.26zM336.72 243.04h1.26v1.26h-1.26zM338.94 243.04h1.26v1.26h-1.26zM341.17 243.04h1.26v1.26h-1.26zM343.39 243.04h1.26v1.26h-1.26zM345.61 243.04h1.26v1.26h-1.26zM347.84 243.04h1.26v1.26h-1.26zM350.06 243.04h1.26v1.26h-1.26zM335.61 244.15h1.26v1.26h-1.26zM340.05 244.15h1.26v1.26h-1.26zM344.50 244.15h1.26v1.26h-1.26zM348.95 244.15h1.26v1.26h-1.26zM332.27 245.26h1.26v1.26h-1.26zM334.49 245.26h1.26v1.26h-1.26zM336.72 245.26h1.26v1.26h-1.26zM338.94 245.26h1.26v1.26h-1.26zM341.17 245.26h1.26v1.26h-1.26zM343.39 245.26h1.26v1.26h-1.26zM345.61 245.26h1.26v1.26h-1.26zM347.84 245.26h1.26v1.26h-1.26zM350.06 245.26h1.26v1.26h-1.26zM333.38 246.37h1.26v1.26h-1.26zM337.83 246.37h1.26v1.26h-1.26zM342.28 246.37h1.26v1.26h-1.26zM346.73 246.37h1.26v1.26h-1.26zM332.27 247.49h1.26v1.26h-1.26zM334.49 247.49h1.26v1.26h-1.26zM336.72 247.49h1.26v1.26h-1.26zM338.94 247.49h1.26v1.26h-1.26zM341.17 247.49h1.26v1.26h-1.26zM343.39 247.49h1.26v1.26h-1.26zM345.61 247.49h1.26v1.26h-1.26zM347.84 247.49h1.26v1.26h-1.26zM350.06 247.49h1.26v1.26h-1.26zM335.61 248.60h1.26v1.26h-1.26zM340.05 248.60h1.26v1.26h-1.26zM344.50 248.60h1.26v1.26h-1.26zM348.95 248.60h1.26v1.26h-1.26z"/>
<path d="M333.60 247.80V146.28H349.75V247.80" fill="none" stroke="#262626" stroke-width="1.1" stroke-linejoin="round"/>
<path d="M378.60 247.80V246.21H394.75V247.80" fill="url(#pDot)" stroke="#262626" stroke-width="1.1" stroke-linejoin="round"/>
<path d="M398.90 247.80V198.22H415.05V247.80" fill="url(#pDiag)" stroke="#262626" stroke-width="1.1" stroke-linejoin="round"/>
<path d="M419.20 247.80V242.60H435.35V247.80" fill="url(#pDash)" stroke="#262626" stroke-width="1.1" stroke-linejoin="round"/>
<clipPath id="c3"><rect x="439.50" y="239.50" width="16.15" height="8.30"/></clipPath><path clip-path="url(#c3)" fill="#000" d="M440.13 237.48h1.26v1.26h-1.26zM444.58 237.48h1.26v1.26h-1.26zM449.03 237.48h1.26v1.26h-1.26zM453.48 237.48h1.26v1.26h-1.26zM439.02 238.59h1.26v1.26h-1.26zM441.25 238.59h1.26v1.26h-1.26zM443.47 238.59h1.26v1.26h-1.26zM445.69 238.59h1.26v1.26h-1.26zM447.92 238.59h1.26v1.26h-1.26zM450.14 238.59h1.26v1.26h-1.26zM452.37 238.59h1.26v1.26h-1.26zM454.59 238.59h1.26v1.26h-1.26zM437.91 239.70h1.26v1.26h-1.26zM442.36 239.70h1.26v1.26h-1.26zM446.81 239.70h1.26v1.26h-1.26zM451.25 239.70h1.26v1.26h-1.26zM455.70 239.70h1.26v1.26h-1.26zM439.02 240.81h1.26v1.26h-1.26zM441.25 240.81h1.26v1.26h-1.26zM443.47 240.81h1.26v1.26h-1.26zM445.69 240.81h1.26v1.26h-1.26zM447.92 240.81h1.26v1.26h-1.26zM450.14 240.81h1.26v1.26h-1.26zM452.37 240.81h1.26v1.26h-1.26zM454.59 240.81h1.26v1.26h-1.26zM440.13 241.93h1.26v1.26h-1.26zM444.58 241.93h1.26v1.26h-1.26zM449.03 241.93h1.26v1.26h-1.26zM453.48 241.93h1.26v1.26h-1.26zM439.02 243.04h1.26v1.26h-1.26zM441.25 243.04h1.26v1.26h-1.26zM443.47 243.04h1.26v1.26h-1.26zM445.69 243.04h1.26v1.26h-1.26zM447.92 243.04h1.26v1.26h-1.26zM450.14 243.04h1.26v1.26h-1.26zM452.37 243.04h1.26v1.26h-1.26zM454.59 243.04h1.26v1.26h-1.26zM437.91 244.15h1.26v1.26h-1.26zM442.36 244.15h1.26v1.26h-1.26zM446.81 244.15h1.26v1.26h-1.26zM451.25 244.15h1.26v1.26h-1.26zM455.70 244.15h1.26v1.26h-1.26zM439.02 245.26h1.26v1.26h-1.26zM441.25 245.26h1.26v1.26h-1.26zM443.47 245.26h1.26v1.26h-1.26zM445.69 245.26h1.26v1.26h-1.26zM447.92 245.26h1.26v1.26h-1.26zM450.14 245.26h1.26v1.26h-1.26zM452.37 245.26h1.26v1.26h-1.26zM454.59 245.26h1.26v1.26h-1.26zM440.13 246.37h1.26v1.26h-1.26zM444.58 246.37h1.26v1.26h-1.26zM449.03 246.37h1.26v1.26h-1.26zM453.48 246.37h1.26v1.26h-1.26zM439.02 247.49h1.26v1.26h-1.26zM441.25 247.49h1.26v1.26h-1.26zM443.47 247.49h1.26v1.26h-1.26zM445.69 247.49h1.26v1.26h-1.26zM447.92 247.49h1.26v1.26h-1.26zM450.14 247.49h1.26v1.26h-1.26zM452.37 247.49h1.26v1.26h-1.26zM454.59 247.49h1.26v1.26h-1.26zM437.91 248.60h1.26v1.26h-1.26zM442.36 248.60h1.26v1.26h-1.26zM446.81 248.60h1.26v1.26h-1.26zM451.25 248.60h1.26v1.26h-1.26zM455.70 248.60h1.26v1.26h-1.26z"/>
<path d="M439.50 247.80V239.50H455.65V247.80" fill="none" stroke="#262626" stroke-width="1.1" stroke-linejoin="round"/>
<path d="M484.50 247.80V208.20H500.65V247.80" fill="url(#pDot)" stroke="#262626" stroke-width="1.1" stroke-linejoin="round"/>
<path d="M504.80 247.80V184.12H520.95V247.80" fill="url(#pDiag)" stroke="#262626" stroke-width="1.1" stroke-linejoin="round"/>
<path d="M525.10 247.80V240.53H541.25V247.80" fill="url(#pDash)" stroke="#262626" stroke-width="1.1" stroke-linejoin="round"/>
<clipPath id="c4"><rect x="545.40" y="230.90" width="16.15" height="16.90"/></clipPath><path clip-path="url(#c4)" fill="#000" d="M543.55 229.69h1.26v1.26h-1.26zM545.77 229.69h1.26v1.26h-1.26zM548.00 229.69h1.26v1.26h-1.26zM550.22 229.69h1.26v1.26h-1.26zM552.45 229.69h1.26v1.26h-1.26zM554.67 229.69h1.26v1.26h-1.26zM556.89 229.69h1.26v1.26h-1.26zM559.12 229.69h1.26v1.26h-1.26zM561.34 229.69h1.26v1.26h-1.26zM544.66 230.81h1.26v1.26h-1.26zM549.11 230.81h1.26v1.26h-1.26zM553.56 230.81h1.26v1.26h-1.26zM558.01 230.81h1.26v1.26h-1.26zM562.45 230.81h1.26v1.26h-1.26zM543.55 231.92h1.26v1.26h-1.26zM545.77 231.92h1.26v1.26h-1.26zM548.00 231.92h1.26v1.26h-1.26zM550.22 231.92h1.26v1.26h-1.26zM552.45 231.92h1.26v1.26h-1.26zM554.67 231.92h1.26v1.26h-1.26zM556.89 231.92h1.26v1.26h-1.26zM559.12 231.92h1.26v1.26h-1.26zM561.34 231.92h1.26v1.26h-1.26zM546.89 233.03h1.26v1.26h-1.26zM551.33 233.03h1.26v1.26h-1.26zM555.78 233.03h1.26v1.26h-1.26zM560.23 233.03h1.26v1.26h-1.26zM543.55 234.14h1.26v1.26h-1.26zM545.77 234.14h1.26v1.26h-1.26zM548.00 234.14h1.26v1.26h-1.26zM550.22 234.14h1.26v1.26h-1.26zM552.45 234.14h1.26v1.26h-1.26zM554.67 234.14h1.26v1.26h-1.26zM556.89 234.14h1.26v1.26h-1.26zM559.12 234.14h1.26v1.26h-1.26zM561.34 234.14h1.26v1.26h-1.26zM544.66 235.25h1.26v1.26h-1.26zM549.11 235.25h1.26v1.26h-1.26zM553.56 235.25h1.26v1.26h-1.26zM558.01 235.25h1.26v1.26h-1.26zM562.45 235.25h1.26v1.26h-1.26zM543.55 236.37h1.26v1.26h-1.26zM545.77 236.37h1.26v1.26h-1.26zM548.00 236.37h1.26v1.26h-1.26zM550.22 236.37h1.26v1.26h-1.26zM552.45 236.37h1.26v1.26h-1.26zM554.67 236.37h1.26v1.26h-1.26zM556.89 236.37h1.26v1.26h-1.26zM559.12 236.37h1.26v1.26h-1.26zM561.34 236.37h1.26v1.26h-1.26zM546.89 237.48h1.26v1.26h-1.26zM551.33 237.48h1.26v1.26h-1.26zM555.78 237.48h1.26v1.26h-1.26zM560.23 237.48h1.26v1.26h-1.26zM543.55 238.59h1.26v1.26h-1.26zM545.77 238.59h1.26v1.26h-1.26zM548.00 238.59h1.26v1.26h-1.26zM550.22 238.59h1.26v1.26h-1.26zM552.45 238.59h1.26v1.26h-1.26zM554.67 238.59h1.26v1.26h-1.26zM556.89 238.59h1.26v1.26h-1.26zM559.12 238.59h1.26v1.26h-1.26zM561.34 238.59h1.26v1.26h-1.26zM544.66 239.70h1.26v1.26h-1.26zM549.11 239.70h1.26v1.26h-1.26zM553.56 239.70h1.26v1.26h-1.26zM558.01 239.70h1.26v1.26h-1.26zM562.45 239.70h1.26v1.26h-1.26zM543.55 240.81h1.26v1.26h-1.26zM545.77 240.81h1.26v1.26h-1.26zM548.00 240.81h1.26v1.26h-1.26zM550.22 240.81h1.26v1.26h-1.26zM552.45 240.81h1.26v1.26h-1.26zM554.67 240.81h1.26v1.26h-1.26zM556.89 240.81h1.26v1.26h-1.26zM559.12 240.81h1.26v1.26h-1.26zM561.34 240.81h1.26v1.26h-1.26zM546.89 241.93h1.26v1.26h-1.26zM551.33 241.93h1.26v1.26h-1.26zM555.78 241.93h1.26v1.26h-1.26zM560.23 241.93h1.26v1.26h-1.26zM543.55 243.04h1.26v1.26h-1.26zM545.77 243.04h1.26v1.26h-1.26zM548.00 243.04h1.26v1.26h-1.26zM550.22 243.04h1.26v1.26h-1.26zM552.45 243.04h1.26v1.26h-1.26zM554.67 243.04h1.26v1.26h-1.26zM556.89 243.04h1.26v1.26h-1.26zM559.12 243.04h1.26v1.26h-1.26zM561.34 243.04h1.26v1.26h-1.26zM544.66 244.15h1.26v1.26h-1.26zM549.11 244.15h1.26v1.26h-1.26zM553.56 244.15h1.26v1.26h-1.26zM558.01 244.15h1.26v1.26h-1.26zM562.45 244.15h1.26v1.26h-1.26zM543.55 245.26h1.26v1.26h-1.26zM545.77 245.26h1.26v1.26h-1.26zM548.00 245.26h1.26v1.26h-1.26zM550.22 245.26h1.26v1.26h-1.26zM552.45 245.26h1.26v1.26h-1.26zM554.67 245.26h1.26v1.26h-1.26zM556.89 245.26h1.26v1.26h-1.26zM559.12 245.26h1.26v1.26h-1.26zM561.34 245.26h1.26v1.26h-1.26zM546.89 246.37h1.26v1.26h-1.26zM551.33 246.37h1.26v1.26h-1.26zM555.78 246.37h1.26v1.26h-1.26zM560.23 246.37h1.26v1.26h-1.26zM543.55 247.49h1.26v1.26h-1.26zM545.77 247.49h1.26v1.26h-1.26zM548.00 247.49h1.26v1.26h-1.26zM550.22 247.49h1.26v1.26h-1.26zM552.45 247.49h1.26v1.26h-1.26zM554.67 247.49h1.26v1.26h-1.26zM556.89 247.49h1.26v1.26h-1.26zM559.12 247.49h1.26v1.26h-1.26zM561.34 247.49h1.26v1.26h-1.26zM544.66 248.60h1.26v1.26h-1.26zM549.11 248.60h1.26v1.26h-1.26zM553.56 248.60h1.26v1.26h-1.26zM558.01 248.60h1.26v1.26h-1.26zM562.45 248.60h1.26v1.26h-1.26z"/>
<path d="M545.40 247.80V230.90H561.55V247.80" fill="none" stroke="#262626" stroke-width="1.1" stroke-linejoin="round"/>
<path d="M590.40 247.80V99.49H606.55V247.80" fill="url(#pDot)" stroke="#262626" stroke-width="1.1" stroke-linejoin="round"/>
<path d="M610.70 247.80V207.85H626.85V247.80" fill="url(#pDiag)" stroke="#262626" stroke-width="1.1" stroke-linejoin="round"/>
<path d="M631.00 247.80V221.61H647.15V247.80" fill="url(#pDash)" stroke="#262626" stroke-width="1.1" stroke-linejoin="round"/>
<clipPath id="c5"><rect x="651.30" y="200.97" width="16.15" height="46.83"/></clipPath><path clip-path="url(#c5)" fill="#000" d="M651.41 199.67h1.26v1.26h-1.26zM655.86 199.67h1.26v1.26h-1.26zM660.31 199.67h1.26v1.26h-1.26zM664.76 199.67h1.26v1.26h-1.26zM650.30 200.78h1.26v1.26h-1.26zM652.53 200.78h1.26v1.26h-1.26zM654.75 200.78h1.26v1.26h-1.26zM656.97 200.78h1.26v1.26h-1.26zM659.20 200.78h1.26v1.26h-1.26zM661.42 200.78h1.26v1.26h-1.26zM663.65 200.78h1.26v1.26h-1.26zM665.87 200.78h1.26v1.26h-1.26zM668.09 200.78h1.26v1.26h-1.26zM649.19 201.89h1.26v1.26h-1.26zM653.64 201.89h1.26v1.26h-1.26zM658.09 201.89h1.26v1.26h-1.26zM662.53 201.89h1.26v1.26h-1.26zM666.98 201.89h1.26v1.26h-1.26zM650.30 203.01h1.26v1.26h-1.26zM652.53 203.01h1.26v1.26h-1.26zM654.75 203.01h1.26v1.26h-1.26zM656.97 203.01h1.26v1.26h-1.26zM659.20 203.01h1.26v1.26h-1.26zM661.42 203.01h1.26v1.26h-1.26zM663.65 203.01h1.26v1.26h-1.26zM665.87 203.01h1.26v1.26h-1.26zM668.09 203.01h1.26v1.26h-1.26zM651.41 204.12h1.26v1.26h-1.26zM655.86 204.12h1.26v1.26h-1.26zM660.31 204.12h1.26v1.26h-1.26zM664.76 204.12h1.26v1.26h-1.26zM650.30 205.23h1.26v1.26h-1.26zM652.53 205.23h1.26v1.26h-1.26zM654.75 205.23h1.26v1.26h-1.26zM656.97 205.23h1.26v1.26h-1.26zM659.20 205.23h1.26v1.26h-1.26zM661.42 205.23h1.26v1.26h-1.26zM663.65 205.23h1.26v1.26h-1.26zM665.87 205.23h1.26v1.26h-1.26zM668.09 205.23h1.26v1.26h-1.26zM649.19 206.34h1.26v1.26h-1.26zM653.64 206.34h1.26v1.26h-1.26zM658.09 206.34h1.26v1.26h-1.26zM662.53 206.34h1.26v1.26h-1.26zM666.98 206.34h1.26v1.26h-1.26zM650.30 207.45h1.26v1.26h-1.26zM652.53 207.45h1.26v1.26h-1.26zM654.75 207.45h1.26v1.26h-1.26zM656.97 207.45h1.26v1.26h-1.26zM659.20 207.45h1.26v1.26h-1.26zM661.42 207.45h1.26v1.26h-1.26zM663.65 207.45h1.26v1.26h-1.26zM665.87 207.45h1.26v1.26h-1.26zM668.09 207.45h1.26v1.26h-1.26zM651.41 208.57h1.26v1.26h-1.26zM655.86 208.57h1.26v1.26h-1.26zM660.31 208.57h1.26v1.26h-1.26zM664.76 208.57h1.26v1.26h-1.26zM650.30 209.68h1.26v1.26h-1.26zM652.53 209.68h1.26v1.26h-1.26zM654.75 209.68h1.26v1.26h-1.26zM656.97 209.68h1.26v1.26h-1.26zM659.20 209.68h1.26v1.26h-1.26zM661.42 209.68h1.26v1.26h-1.26zM663.65 209.68h1.26v1.26h-1.26zM665.87 209.68h1.26v1.26h-1.26zM668.09 209.68h1.26v1.26h-1.26zM649.19 210.79h1.26v1.26h-1.26zM653.64 210.79h1.26v1.26h-1.26zM658.09 210.79h1.26v1.26h-1.26zM662.53 210.79h1.26v1.26h-1.26zM666.98 210.79h1.26v1.26h-1.26zM650.30 211.90h1.26v1.26h-1.26zM652.53 211.90h1.26v1.26h-1.26zM654.75 211.90h1.26v1.26h-1.26zM656.97 211.90h1.26v1.26h-1.26zM659.20 211.90h1.26v1.26h-1.26zM661.42 211.90h1.26v1.26h-1.26zM663.65 211.90h1.26v1.26h-1.26zM665.87 211.90h1.26v1.26h-1.26zM668.09 211.90h1.26v1.26h-1.26zM651.41 213.01h1.26v1.26h-1.26zM655.86 213.01h1.26v1.26h-1.26zM660.31 213.01h1.26v1.26h-1.26zM664.76 213.01h1.26v1.26h-1.26zM650.30 214.13h1.26v1.26h-1.26zM652.53 214.13h1.26v1.26h-1.26zM654.75 214.13h1.26v1.26h-1.26zM656.97 214.13h1.26v1.26h-1.26zM659.20 214.13h1.26v1.26h-1.26zM661.42 214.13h1.26v1.26h-1.26zM663.65 214.13h1.26v1.26h-1.26zM665.87 214.13h1.26v1.26h-1.26zM668.09 214.13h1.26v1.26h-1.26zM649.19 215.24h1.26v1.26h-1.26zM653.64 215.24h1.26v1.26h-1.26zM658.09 215.24h1.26v1.26h-1.26zM662.53 215.24h1.26v1.26h-1.26zM666.98 215.24h1.26v1.26h-1.26zM650.30 216.35h1.26v1.26h-1.26zM652.53 216.35h1.26v1.26h-1.26zM654.75 216.35h1.26v1.26h-1.26zM656.97 216.35h1.26v1.26h-1.26zM659.20 216.35h1.26v1.26h-1.26zM661.42 216.35h1.26v1.26h-1.26zM663.65 216.35h1.26v1.26h-1.26zM665.87 216.35h1.26v1.26h-1.26zM668.09 216.35h1.26v1.26h-1.26zM651.41 217.46h1.26v1.26h-1.26zM655.86 217.46h1.26v1.26h-1.26zM660.31 217.46h1.26v1.26h-1.26zM664.76 217.46h1.26v1.26h-1.26zM650.30 218.57h1.26v1.26h-1.26zM652.53 218.57h1.26v1.26h-1.26zM654.75 218.57h1.26v1.26h-1.26zM656.97 218.57h1.26v1.26h-1.26zM659.20 218.57h1.26v1.26h-1.26zM661.42 218.57h1.26v1.26h-1.26zM663.65 218.57h1.26v1.26h-1.26zM665.87 218.57h1.26v1.26h-1.26zM668.09 218.57h1.26v1.26h-1.26zM649.19 219.69h1.26v1.26h-1.26zM653.64 219.69h1.26v1.26h-1.26zM658.09 219.69h1.26v1.26h-1.26zM662.53 219.69h1.26v1.26h-1.26zM666.98 219.69h1.26v1.26h-1.26zM650.30 220.80h1.26v1.26h-1.26zM652.53 220.80h1.26v1.26h-1.26zM654.75 220.80h1.26v1.26h-1.26zM656.97 220.80h1.26v1.26h-1.26zM659.20 220.80h1.26v1.26h-1.26zM661.42 220.80h1.26v1.26h-1.26zM663.65 220.80h1.26v1.26h-1.26zM665.87 220.80h1.26v1.26h-1.26zM668.09 220.80h1.26v1.26h-1.26zM651.41 221.91h1.26v1.26h-1.26zM655.86 221.91h1.26v1.26h-1.26zM660.31 221.91h1.26v1.26h-1.26zM664.76 221.91h1.26v1.26h-1.26zM650.30 223.02h1.26v1.26h-1.26zM652.53 223.02h1.26v1.26h-1.26zM654.75 223.02h1.26v1.26h-1.26zM656.97 223.02h1.26v1.26h-1.26zM659.20 223.02h1.26v1.26h-1.26zM661.42 223.02h1.26v1.26h-1.26zM663.65 223.02h1.26v1.26h-1.26zM665.87 223.02h1.26v1.26h-1.26zM668.09 223.02h1.26v1.26h-1.26zM649.19 224.13h1.26v1.26h-1.26zM653.64 224.13h1.26v1.26h-1.26zM658.09 224.13h1.26v1.26h-1.26zM662.53 224.13h1.26v1.26h-1.26zM666.98 224.13h1.26v1.26h-1.26zM650.30 225.25h1.26v1.26h-1.26zM652.53 225.25h1.26v1.26h-1.26zM654.75 225.25h1.26v1.26h-1.26zM656.97 225.25h1.26v1.26h-1.26zM659.20 225.25h1.26v1.26h-1.26zM661.42 225.25h1.26v1.26h-1.26zM663.65 225.25h1.26v1.26h-1.26zM665.87 225.25h1.26v1.26h-1.26zM668.09 225.25h1.26v1.26h-1.26zM651.41 226.36h1.26v1.26h-1.26zM655.86 226.36h1.26v1.26h-1.26zM660.31 226.36h1.26v1.26h-1.26zM664.76 226.36h1.26v1.26h-1.26zM650.30 227.47h1.26v1.26h-1.26zM652.53 227.47h1.26v1.26h-1.26zM654.75 227.47h1.26v1.26h-1.26zM656.97 227.47h1.26v1.26h-1.26zM659.20 227.47h1.26v1.26h-1.26zM661.42 227.47h1.26v1.26h-1.26zM663.65 227.47h1.26v1.26h-1.26zM665.87 227.47h1.26v1.26h-1.26zM668.09 227.47h1.26v1.26h-1.26zM649.19 228.58h1.26v1.26h-1.26zM653.64 228.58h1.26v1.26h-1.26zM658.09 228.58h1.26v1.26h-1.26zM662.53 228.58h1.26v1.26h-1.26zM666.98 228.58h1.26v1.26h-1.26zM650.30 229.69h1.26v1.26h-1.26zM652.53 229.69h1.26v1.26h-1.26zM654.75 229.69h1.26v1.26h-1.26zM656.97 229.69h1.26v1.26h-1.26zM659.20 229.69h1.26v1.26h-1.26zM661.42 229.69h1.26v1.26h-1.26zM663.65 229.69h1.26v1.26h-1.26zM665.87 229.69h1.26v1.26h-1.26zM668.09 229.69h1.26v1.26h-1.26zM651.41 230.81h1.26v1.26h-1.26zM655.86 230.81h1.26v1.26h-1.26zM660.31 230.81h1.26v1.26h-1.26zM664.76 230.81h1.26v1.26h-1.26zM650.30 231.92h1.26v1.26h-1.26zM652.53 231.92h1.26v1.26h-1.26zM654.75 231.92h1.26v1.26h-1.26zM656.97 231.92h1.26v1.26h-1.26zM659.20 231.92h1.26v1.26h-1.26zM661.42 231.92h1.26v1.26h-1.26zM663.65 231.92h1.26v1.26h-1.26zM665.87 231.92h1.26v1.26h-1.26zM668.09 231.92h1.26v1.26h-1.26zM649.19 233.03h1.26v1.26h-1.26zM653.64 233.03h1.26v1.26h-1.26zM658.09 233.03h1.26v1.26h-1.26zM662.53 233.03h1.26v1.26h-1.26zM666.98 233.03h1.26v1.26h-1.26zM650.30 234.14h1.26v1.26h-1.26zM652.53 234.14h1.26v1.26h-1.26zM654.75 234.14h1.26v1.26h-1.26zM656.97 234.14h1.26v1.26h-1.26zM659.20 234.14h1.26v1.26h-1.26zM661.42 234.14h1.26v1.26h-1.26zM663.65 234.14h1.26v1.26h-1.26zM665.87 234.14h1.26v1.26h-1.26zM668.09 234.14h1.26v1.26h-1.26zM651.41 235.25h1.26v1.26h-1.26zM655.86 235.25h1.26v1.26h-1.26zM660.31 235.25h1.26v1.26h-1.26zM664.76 235.25h1.26v1.26h-1.26zM650.30 236.37h1.26v1.26h-1.26zM652.53 236.37h1.26v1.26h-1.26zM654.75 236.37h1.26v1.26h-1.26zM656.97 236.37h1.26v1.26h-1.26zM659.20 236.37h1.26v1.26h-1.26zM661.42 236.37h1.26v1.26h-1.26zM663.65 236.37h1.26v1.26h-1.26zM665.87 236.37h1.26v1.26h-1.26zM668.09 236.37h1.26v1.26h-1.26zM649.19 237.48h1.26v1.26h-1.26zM653.64 237.48h1.26v1.26h-1.26zM658.09 237.48h1.26v1.26h-1.26zM662.53 237.48h1.26v1.26h-1.26zM666.98 237.48h1.26v1.26h-1.26zM650.30 238.59h1.26v1.26h-1.26zM652.53 238.59h1.26v1.26h-1.26zM654.75 238.59h1.26v1.26h-1.26zM656.97 238.59h1.26v1.26h-1.26zM659.20 238.59h1.26v1.26h-1.26zM661.42 238.59h1.26v1.26h-1.26zM663.65 238.59h1.26v1.26h-1.26zM665.87 238.59h1.26v1.26h-1.26zM668.09 238.59h1.26v1.26h-1.26zM651.41 239.70h1.26v1.26h-1.26zM655.86 239.70h1.26v1.26h-1.26zM660.31 239.70h1.26v1.26h-1.26zM664.76 239.70h1.26v1.26h-1.26zM650.30 240.81h1.26v1.26h-1.26zM652.53 240.81h1.26v1.26h-1.26zM654.75 240.81h1.26v1.26h-1.26zM656.97 240.81h1.26v1.26h-1.26zM659.20 240.81h1.26v1.26h-1.26zM661.42 240.81h1.26v1.26h-1.26zM663.65 240.81h1.26v1.26h-1.26zM665.87 240.81h1.26v1.26h-1.26zM668.09 240.81h1.26v1.26h-1.26zM649.19 241.93h1.26v1.26h-1.26zM653.64 241.93h1.26v1.26h-1.26zM658.09 241.93h1.26v1.26h-1.26zM662.53 241.93h1.26v1.26h-1.26zM666.98 241.93h1.26v1.26h-1.26zM650.30 243.04h1.26v1.26h-1.26zM652.53 243.04h1.26v1.26h-1.26zM654.75 243.04h1.26v1.26h-1.26zM656.97 243.04h1.26v1.26h-1.26zM659.20 243.04h1.26v1.26h-1.26zM661.42 243.04h1.26v1.26h-1.26zM663.65 243.04h1.26v1.26h-1.26zM665.87 243.04h1.26v1.26h-1.26zM668.09 243.04h1.26v1.26h-1.26zM651.41 244.15h1.26v1.26h-1.26zM655.86 244.15h1.26v1.26h-1.26zM660.31 244.15h1.26v1.26h-1.26zM664.76 244.15h1.26v1.26h-1.26zM650.30 245.26h1.26v1.26h-1.26zM652.53 245.26h1.26v1.26h-1.26zM654.75 245.26h1.26v1.26h-1.26zM656.97 245.26h1.26v1.26h-1.26zM659.20 245.26h1.26v1.26h-1.26zM661.42 245.26h1.26v1.26h-1.26zM663.65 245.26h1.26v1.26h-1.26zM665.87 245.26h1.26v1.26h-1.26zM668.09 245.26h1.26v1.26h-1.26zM649.19 246.37h1.26v1.26h-1.26zM653.64 246.37h1.26v1.26h-1.26zM658.09 246.37h1.26v1.26h-1.26zM662.53 246.37h1.26v1.26h-1.26zM666.98 246.37h1.26v1.26h-1.26zM650.30 247.49h1.26v1.26h-1.26zM652.53 247.49h1.26v1.26h-1.26zM654.75 247.49h1.26v1.26h-1.26zM656.97 247.49h1.26v1.26h-1.26zM659.20 247.49h1.26v1.26h-1.26zM661.42 247.49h1.26v1.26h-1.26zM663.65 247.49h1.26v1.26h-1.26zM665.87 247.49h1.26v1.26h-1.26zM668.09 247.49h1.26v1.26h-1.26zM651.41 248.60h1.26v1.26h-1.26zM655.86 248.60h1.26v1.26h-1.26zM660.31 248.60h1.26v1.26h-1.26zM664.76 248.60h1.26v1.26h-1.26z"/>
<path d="M651.30 247.80V200.97H667.45V247.80" fill="none" stroke="#262626" stroke-width="1.1" stroke-linejoin="round"/>
<line x1="46.2" x2="682.05" y1="248.30" y2="248.30" stroke="#D9D9D9" stroke-width="1"/>
<text class="cat" x="101.35" y="271.40" text-anchor="middle">Economic</text>
<text class="cat" x="99.55" y="289.10" text-anchor="middle">consequence</text>
<text class="cat" x="205.45" y="271.40" text-anchor="middle">Conflict</text>
<text class="cat" x="311.35" y="271.40" text-anchor="middle">Attribution of</text>
<text class="cat" x="311.35" y="289.10" text-anchor="middle">responsibility</text>
<text class="cat" x="417.25" y="271.40" text-anchor="middle">Human interest</text>
<text class="cat" x="523.15" y="271.40" text-anchor="middle">Reassurance</text>
<text class="cat" x="629.05" y="271.40" text-anchor="middle">Other</text>
<rect x="134.97" y="310.47" width="7.47" height="6.72" fill="url(#lDot)" stroke="#262626" stroke-width="1.1" stroke-linejoin="round"/>
<text class="leg" x="145.60" y="317.95">China-central</text>
<clipPath id="lc1"><rect x="261.58" y="310.37" width="7.00" height="7.07"/></clipPath>
<line clip-path="url(#lc1)" x1="258.63" y1="307.37" x2="271.70" y2="320.44" stroke="#000" stroke-width="1.45"/>
<line clip-path="url(#lc1)" x1="262.43" y1="307.37" x2="275.50" y2="320.44" stroke="#000" stroke-width="1.15"/>
<line clip-path="url(#lc1)" x1="254.83" y1="307.37" x2="267.90" y2="320.44" stroke="#000" stroke-width="1.15"/>
<rect x="261.58" y="310.37" width="7.00" height="7.07" fill="none" stroke="#262626" stroke-width="1.1" stroke-linejoin="round"/>
<text class="leg" x="271.40" y="317.95">China-local</text>
<rect x="376.37" y="310.47" width="7.17" height="6.82" fill="url(#lDash)" stroke="#262626" stroke-width="1.1" stroke-linejoin="round"/>
<text class="leg" x="386.80" y="317.95">US-federal</text>
<clipPath id="lc3"><rect x="486.73" y="310.37" width="7.96" height="7.07"/></clipPath>
<path clip-path="url(#lc3)" fill="#000" d="M480.82 305.49h1.16v1.16h-1.16zM484.54 305.49h1.16v1.16h-1.16zM488.26 305.49h1.16v1.16h-1.16zM491.98 305.49h1.16v1.16h-1.16zM495.70 305.49h1.16v1.16h-1.16zM499.42 305.49h1.16v1.16h-1.16zM481.75 306.42h1.16v1.16h-1.16zM483.61 306.42h1.16v1.16h-1.16zM485.47 306.42h1.16v1.16h-1.16zM487.33 306.42h1.16v1.16h-1.16zM489.19 306.42h1.16v1.16h-1.16zM491.05 306.42h1.16v1.16h-1.16zM492.91 306.42h1.16v1.16h-1.16zM494.77 306.42h1.16v1.16h-1.16zM496.63 306.42h1.16v1.16h-1.16zM498.49 306.42h1.16v1.16h-1.16zM500.35 306.42h1.16v1.16h-1.16zM482.68 307.35h1.16v1.16h-1.16zM486.40 307.35h1.16v1.16h-1.16zM490.12 307.35h1.16v1.16h-1.16zM493.84 307.35h1.16v1.16h-1.16zM497.56 307.35h1.16v1.16h-1.16zM481.75 308.28h1.16v1.16h-1.16zM483.61 308.28h1.16v1.16h-1.16zM485.47 308.28h1.16v1.16h-1.16zM487.33 308.28h1.16v1.16h-1.16zM489.19 308.28h1.16v1.16h-1.16zM491.05 308.28h1.16v1.16h-1.16zM492.91 308.28h1.16v1.16h-1.16zM494.77 308.28h1.16v1.16h-1.16zM496.63 308.28h1.16v1.16h-1.16zM498.49 308.28h1.16v1.16h-1.16zM500.35 308.28h1.16v1.16h-1.16zM480.82 309.21h1.16v1.16h-1.16zM484.54 309.21h1.16v1.16h-1.16zM488.26 309.21h1.16v1.16h-1.16zM491.98 309.21h1.16v1.16h-1.16zM495.70 309.21h1.16v1.16h-1.16zM499.42 309.21h1.16v1.16h-1.16zM481.75 310.14h1.16v1.16h-1.16zM483.61 310.14h1.16v1.16h-1.16zM485.47 310.14h1.16v1.16h-1.16zM487.33 310.14h1.16v1.16h-1.16zM489.19 310.14h1.16v1.16h-1.16zM491.05 310.14h1.16v1.16h-1.16zM492.91 310.14h1.16v1.16h-1.16zM494.77 310.14h1.16v1.16h-1.16zM496.63 310.14h1.16v1.16h-1.16zM498.49 310.14h1.16v1.16h-1.16zM500.35 310.14h1.16v1.16h-1.16zM482.68 311.07h1.16v1.16h-1.16zM486.40 311.07h1.16v1.16h-1.16zM490.12 311.07h1.16v1.16h-1.16zM493.84 311.07h1.16v1.16h-1.16zM497.56 311.07h1.16v1.16h-1.16zM481.75 312.00h1.16v1.16h-1.16zM483.61 312.00h1.16v1.16h-1.16zM485.47 312.00h1.16v1.16h-1.16zM487.33 312.00h1.16v1.16h-1.16zM489.19 312.00h1.16v1.16h-1.16zM491.05 312.00h1.16v1.16h-1.16zM492.91 312.00h1.16v1.16h-1.16zM494.77 312.00h1.16v1.16h-1.16zM496.63 312.00h1.16v1.16h-1.16zM498.49 312.00h1.16v1.16h-1.16zM500.35 312.00h1.16v1.16h-1.16zM480.82 312.93h1.16v1.16h-1.16zM484.54 312.93h1.16v1.16h-1.16zM488.26 312.93h1.16v1.16h-1.16zM491.98 312.93h1.16v1.16h-1.16zM495.70 312.93h1.16v1.16h-1.16zM499.42 312.93h1.16v1.16h-1.16zM481.75 313.86h1.16v1.16h-1.16zM483.61 313.86h1.16v1.16h-1.16zM485.47 313.86h1.16v1.16h-1.16zM487.33 313.86h1.16v1.16h-1.16zM489.19 313.86h1.16v1.16h-1.16zM491.05 313.86h1.16v1.16h-1.16zM492.91 313.86h1.16v1.16h-1.16zM494.77 313.86h1.16v1.16h-1.16zM496.63 313.86h1.16v1.16h-1.16zM498.49 313.86h1.16v1.16h-1.16zM500.35 313.86h1.16v1.16h-1.16zM482.68 314.79h1.16v1.16h-1.16zM486.40 314.79h1.16v1.16h-1.16zM490.12 314.79h1.16v1.16h-1.16zM493.84 314.79h1.16v1.16h-1.16zM497.56 314.79h1.16v1.16h-1.16zM481.75 315.72h1.16v1.16h-1.16zM483.61 315.72h1.16v1.16h-1.16zM485.47 315.72h1.16v1.16h-1.16zM487.33 315.72h1.16v1.16h-1.16zM489.19 315.72h1.16v1.16h-1.16zM491.05 315.72h1.16v1.16h-1.16zM492.91 315.72h1.16v1.16h-1.16zM494.77 315.72h1.16v1.16h-1.16zM496.63 315.72h1.16v1.16h-1.16zM498.49 315.72h1.16v1.16h-1.16zM500.35 315.72h1.16v1.16h-1.16zM480.82 316.65h1.16v1.16h-1.16zM484.54 316.65h1.16v1.16h-1.16zM488.26 316.65h1.16v1.16h-1.16zM491.98 316.65h1.16v1.16h-1.16zM495.70 316.65h1.16v1.16h-1.16zM499.42 316.65h1.16v1.16h-1.16zM481.75 317.58h1.16v1.16h-1.16zM483.61 317.58h1.16v1.16h-1.16zM485.47 317.58h1.16v1.16h-1.16zM487.33 317.58h1.16v1.16h-1.16zM489.19 317.58h1.16v1.16h-1.16zM491.05 317.58h1.16v1.16h-1.16zM492.91 317.58h1.16v1.16h-1.16zM494.77 317.58h1.16v1.16h-1.16zM496.63 317.58h1.16v1.16h-1.16zM498.49 317.58h1.16v1.16h-1.16zM500.35 317.58h1.16v1.16h-1.16zM482.68 318.51h1.16v1.16h-1.16zM486.40 318.51h1.16v1.16h-1.16zM490.12 318.51h1.16v1.16h-1.16zM493.84 318.51h1.16v1.16h-1.16zM497.56 318.51h1.16v1.16h-1.16zM481.75 319.44h1.16v1.16h-1.16zM483.61 319.44h1.16v1.16h-1.16zM485.47 319.44h1.16v1.16h-1.16zM487.33 319.44h1.16v1.16h-1.16zM489.19 319.44h1.16v1.16h-1.16zM491.05 319.44h1.16v1.16h-1.16zM492.91 319.44h1.16v1.16h-1.16zM494.77 319.44h1.16v1.16h-1.16zM496.63 319.44h1.16v1.16h-1.16zM498.49 319.44h1.16v1.16h-1.16zM500.35 319.44h1.16v1.16h-1.16zM480.82 320.37h1.16v1.16h-1.16zM484.54 320.37h1.16v1.16h-1.16zM488.26 320.37h1.16v1.16h-1.16zM491.98 320.37h1.16v1.16h-1.16zM495.70 320.37h1.16v1.16h-1.16zM499.42 320.37h1.16v1.16h-1.16zM481.75 321.30h1.16v1.16h-1.16zM483.61 321.30h1.16v1.16h-1.16zM485.47 321.30h1.16v1.16h-1.16zM487.33 321.30h1.16v1.16h-1.16zM489.19 321.30h1.16v1.16h-1.16zM491.05 321.30h1.16v1.16h-1.16zM492.91 321.30h1.16v1.16h-1.16zM494.77 321.30h1.16v1.16h-1.16zM496.63 321.30h1.16v1.16h-1.16zM498.49 321.30h1.16v1.16h-1.16zM500.35 321.30h1.16v1.16h-1.16zM482.68 322.23h1.16v1.16h-1.16zM486.40 322.23h1.16v1.16h-1.16zM490.12 322.23h1.16v1.16h-1.16zM493.84 322.23h1.16v1.16h-1.16zM497.56 322.23h1.16v1.16h-1.16zM481.75 323.16h1.16v1.16h-1.16zM483.61 323.16h1.16v1.16h-1.16zM485.47 323.16h1.16v1.16h-1.16zM487.33 323.16h1.16v1.16h-1.16zM489.19 323.16h1.16v1.16h-1.16zM491.05 323.16h1.16v1.16h-1.16zM492.91 323.16h1.16v1.16h-1.16zM494.77 323.16h1.16v1.16h-1.16zM496.63 323.16h1.16v1.16h-1.16zM498.49 323.16h1.16v1.16h-1.16zM500.35 323.16h1.16v1.16h-1.16z"/>
<rect x="486.73" y="310.37" width="7.96" height="7.07" fill="none" stroke="#262626" stroke-width="1.3" stroke-linejoin="round"/>
<text class="leg" x="497.50" y="317.95">US-local</text>
</svg></body></html>
